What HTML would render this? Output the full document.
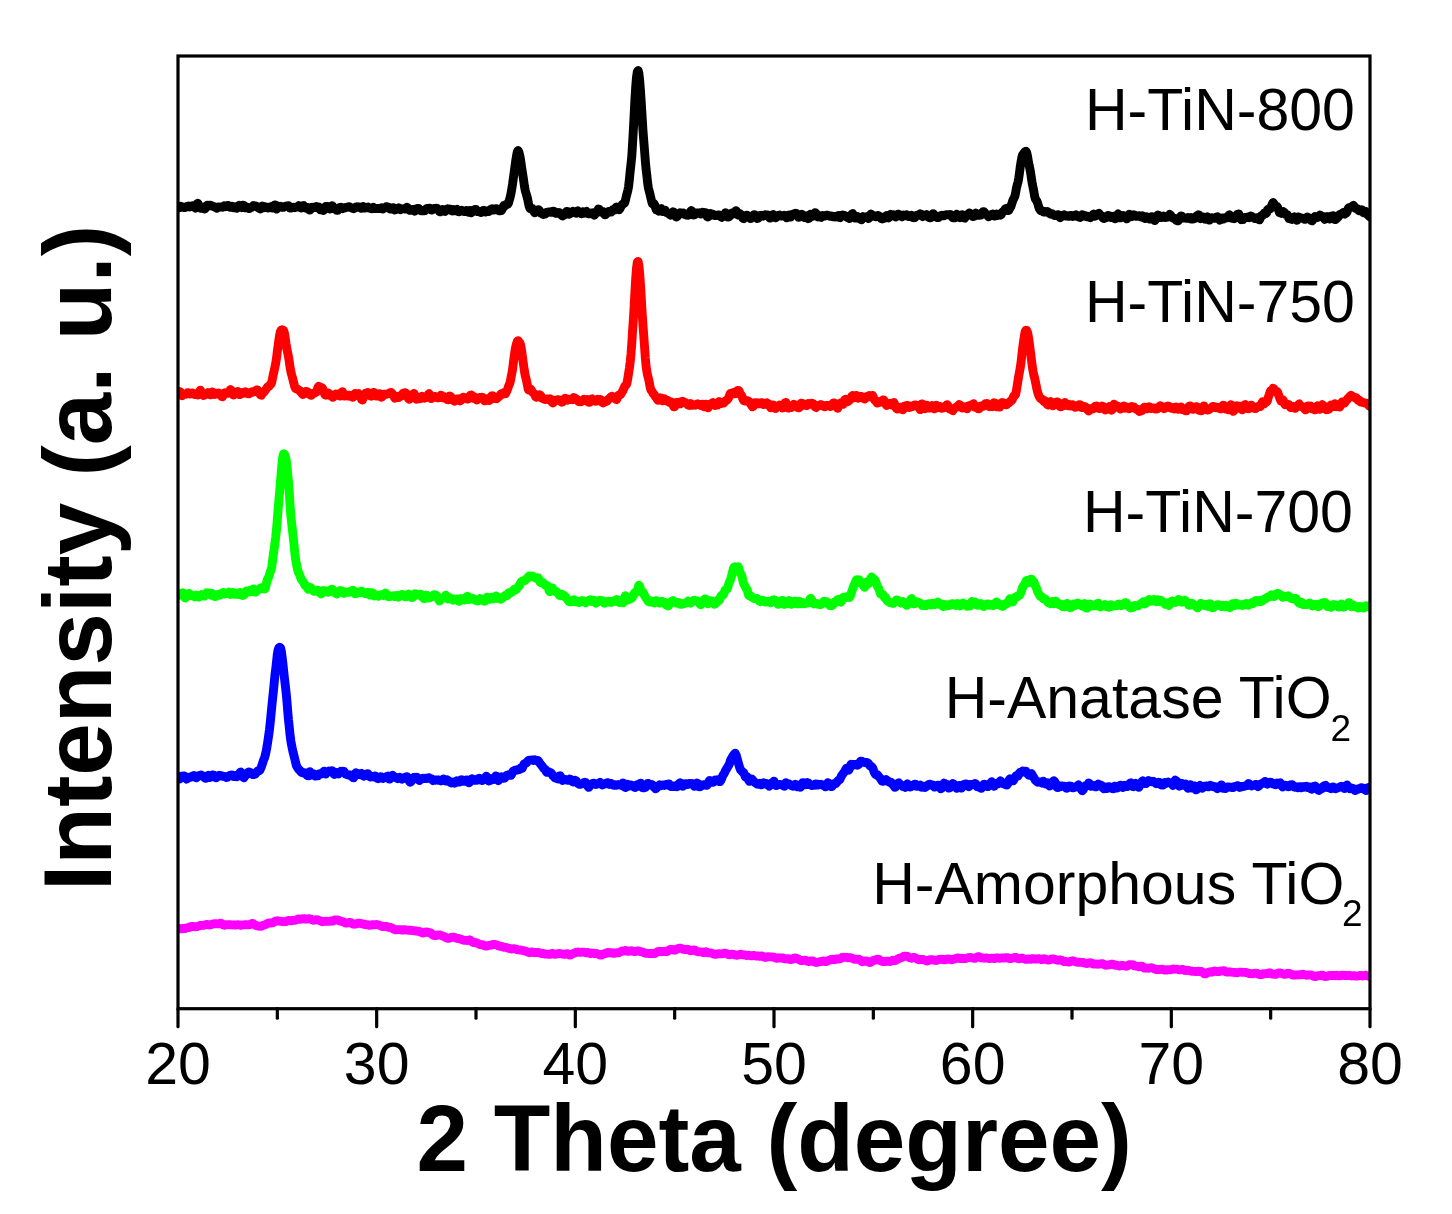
<!DOCTYPE html>
<html><head><meta charset="utf-8"><style>
html,body{margin:0;padding:0;background:#fff;}
svg{display:block;}
text{font-family:"Liberation Sans",sans-serif;}
</style></head><body>
<svg width="1452" height="1214" viewBox="0 0 1452 1214">
<rect x="0" y="0" width="1452" height="1214" fill="#fff"/>
<clipPath id="cp"><rect x="178.0" y="56.0" width="1192.0" height="952.7"/></clipPath>
<g clip-path="url(#cp)">
<polyline points="178.0,207.6 178.8,207.8 179.6,206.9 180.4,206.3 181.2,207.1 182.0,207.3 182.8,207.0 183.6,207.3 184.4,207.6 185.2,207.4 185.9,207.2 186.7,206.9 187.5,206.2 188.3,206.0 189.1,206.5 189.9,207.0 190.7,206.8 191.5,206.1 192.3,205.7 193.1,206.0 193.9,206.6 194.7,207.4 195.5,208.2 196.3,206.7 197.1,203.8 197.9,203.3 198.7,205.0 199.5,206.2 200.3,207.2 201.0,208.3 201.8,208.4 202.6,207.1 203.4,207.4 204.2,209.0 205.0,209.0 205.8,207.7 206.6,205.9 207.4,205.1 208.2,205.9 209.0,206.1 209.8,205.3 210.6,205.3 211.4,205.7 212.2,205.8 213.0,206.3 213.8,206.8 214.6,206.8 215.3,207.0 216.1,207.8 216.9,208.2 217.7,207.5 218.5,206.9 219.3,207.1 220.1,207.2 220.9,207.1 221.7,206.9 222.5,207.2 223.3,206.6 224.1,205.7 224.9,206.0 225.7,206.7 226.5,206.5 227.3,205.6 228.1,205.4 228.9,206.2 229.7,206.8 230.4,207.3 231.2,206.9 232.0,206.2 232.8,207.1 233.6,207.9 234.4,207.1 235.2,206.8 236.0,207.6 236.8,208.2 237.6,207.8 238.4,206.4 239.2,205.4 240.0,205.9 240.8,206.9 241.6,207.5 242.4,206.6 243.2,205.1 244.0,205.6 244.8,207.4 245.5,207.8 246.3,207.1 247.1,207.2 247.9,207.9 248.7,208.5 249.5,208.5 250.3,207.9 251.1,207.3 251.9,207.2 252.7,206.7 253.5,205.5 254.3,205.7 255.1,206.0 255.9,205.9 256.7,206.4 257.5,207.1 258.3,207.7 259.1,208.1 259.9,208.7 260.6,208.9 261.4,207.7 262.2,206.1 263.0,206.3 263.8,207.8 264.6,207.6 265.4,206.8 266.2,207.0 267.0,207.6 267.8,208.0 268.6,207.7 269.4,207.1 270.2,206.8 271.0,206.8 271.8,207.1 272.6,208.1 273.4,207.9 274.2,205.4 274.9,204.9 275.7,207.7 276.5,209.1 277.3,207.3 278.1,206.1 278.9,206.5 279.7,206.4 280.5,206.3 281.3,206.9 282.1,207.4 282.9,207.4 283.7,207.3 284.5,206.8 285.3,206.2 286.1,206.0 286.9,206.0 287.7,206.0 288.5,205.7 289.3,206.5 290.0,208.0 290.8,208.1 291.6,207.8 292.4,207.7 293.2,207.3 294.0,207.3 294.8,207.7 295.6,207.4 296.4,207.0 297.2,207.1 298.0,206.5 298.8,205.6 299.6,205.9 300.4,207.2 301.2,208.1 302.0,207.1 302.8,205.9 303.6,205.5 304.4,206.8 305.1,208.0 305.9,207.5 306.7,207.2 307.5,208.0 308.3,209.0 309.1,209.9 309.9,210.1 310.7,208.8 311.5,207.4 312.3,207.2 313.1,207.5 313.9,207.7 314.7,207.6 315.5,207.0 316.3,206.6 317.1,207.1 317.9,206.9 318.7,206.9 319.5,208.5 320.2,209.6 321.0,209.2 321.8,208.3 322.6,208.9 323.4,210.5 324.2,209.6 325.0,207.2 325.8,206.4 326.6,206.5 327.4,206.4 328.2,207.1 329.0,208.2 329.8,209.1 330.6,208.0 331.4,205.8 332.2,205.7 333.0,206.8 333.8,208.3 334.5,208.9 335.3,208.4 336.1,208.7 336.9,210.4 337.7,210.4 338.5,208.6 339.3,207.7 340.1,207.4 340.9,207.2 341.7,207.8 342.5,208.6 343.3,208.0 344.1,207.7 344.9,208.0 345.7,207.6 346.5,207.3 347.3,207.2 348.1,207.0 348.9,206.6 349.6,206.9 350.4,207.4 351.2,207.8 352.0,208.0 352.8,208.4 353.6,208.7 354.4,208.2 355.2,207.6 356.0,207.1 356.8,206.7 357.6,206.9 358.4,207.3 359.2,207.0 360.0,207.3 360.8,208.3 361.6,208.4 362.4,207.2 363.2,206.5 364.0,207.6 364.7,208.0 365.5,207.6 366.3,207.9 367.1,207.4 367.9,207.1 368.7,207.8 369.5,208.2 370.3,207.9 371.1,208.1 371.9,208.9 372.7,208.0 373.5,207.3 374.3,208.1 375.1,208.6 375.9,208.6 376.7,208.5 377.5,208.5 378.3,208.5 379.1,208.4 379.8,208.6 380.6,208.1 381.4,207.8 382.2,208.5 383.0,208.9 383.8,208.3 384.6,208.0 385.4,207.7 386.2,206.7 387.0,206.6 387.8,207.2 388.6,207.4 389.4,208.1 390.2,209.0 391.0,209.1 391.8,208.1 392.6,207.7 393.4,207.7 394.1,208.3 394.9,210.0 395.7,209.5 396.5,208.7 397.3,209.1 398.1,208.4 398.9,207.8 399.7,209.0 400.5,209.7 401.3,209.1 402.1,208.8 402.9,208.9 403.7,208.7 404.5,209.1 405.3,208.9 406.1,207.8 406.9,207.2 407.7,207.7 408.5,208.7 409.2,209.9 410.0,210.4 410.8,210.4 411.6,210.0 412.4,209.4 413.2,209.4 414.0,210.6 414.8,211.2 415.6,209.9 416.4,208.8 417.2,208.6 418.0,208.4 418.8,208.6 419.6,209.2 420.4,210.1 421.2,210.9 422.0,210.8 422.8,210.7 423.6,210.8 424.3,210.8 425.1,210.6 425.9,209.4 426.7,208.5 427.5,208.6 428.3,208.5 429.1,208.1 429.9,208.1 430.7,208.8 431.5,210.1 432.3,209.9 433.1,208.8 433.9,208.4 434.7,208.7 435.5,208.6 436.3,208.2 437.1,208.3 437.9,209.0 438.7,210.0 439.4,211.4 440.2,211.8 441.0,211.1 441.8,210.1 442.6,209.5 443.4,210.1 444.2,210.9 445.0,211.4 445.8,210.8 446.6,209.1 447.4,208.8 448.2,209.3 449.0,209.4 449.8,209.0 450.6,209.4 451.4,210.5 452.2,211.0 453.0,210.3 453.7,209.6 454.5,210.0 455.3,210.7 456.1,210.0 456.9,209.5 457.7,210.7 458.5,211.7 459.3,211.7 460.1,211.2 460.9,210.8 461.7,210.3 462.5,210.5 463.3,210.9 464.1,211.6 464.9,211.6 465.7,210.6 466.5,210.5 467.3,211.4 468.1,212.2 468.8,211.5 469.6,210.5 470.4,211.3 471.2,212.7 472.0,212.3 472.8,210.3 473.6,210.1 474.4,210.6 475.2,209.5 476.0,209.4 476.8,211.0 477.6,211.6 478.4,211.2 479.2,211.4 480.0,212.1 480.8,212.6 481.6,212.2 482.4,211.4 483.2,210.4 483.9,210.3 484.7,211.2 485.5,212.0 486.3,211.6 487.1,211.0 487.9,211.4 488.7,211.6 489.5,210.8 490.3,210.0 491.1,209.2 491.9,208.8 492.7,209.6 493.5,210.1 494.3,209.8 495.1,209.6 495.9,208.7 496.7,208.7 497.5,209.9 498.3,210.5 499.0,209.7 499.8,210.0 500.6,210.8 501.4,210.6 502.2,209.4 503.0,207.0 503.8,205.7 504.6,206.1 505.4,205.5 506.2,204.5 507.0,204.2 507.8,204.3 508.6,202.7 509.4,199.9 510.2,197.1 511.0,193.4 511.8,188.7 512.6,183.7 513.3,178.5 514.1,173.0 514.9,166.8 515.7,160.9 516.5,155.9 517.3,151.9 518.1,150.5 518.9,152.0 519.7,155.1 520.5,159.4 521.3,165.1 522.1,170.5 522.9,175.4 523.7,180.9 524.5,186.6 525.3,190.7 526.1,193.4 526.9,196.2 527.7,199.4 528.4,202.9 529.2,206.4 530.0,208.6 530.8,209.1 531.6,208.8 532.4,208.6 533.2,209.7 534.0,211.7 534.8,212.9 535.6,212.2 536.4,210.8 537.2,210.1 538.0,209.7 538.8,209.7 539.6,210.7 540.4,212.3 541.2,213.4 542.0,213.7 542.8,214.3 543.5,214.5 544.3,214.1 545.1,214.1 545.9,213.4 546.7,212.4 547.5,212.2 548.3,212.1 549.1,211.9 549.9,212.1 550.7,212.4 551.5,212.3 552.3,211.6 553.1,211.1 553.9,211.1 554.7,212.3 555.5,213.3 556.3,213.4 557.1,213.4 557.9,213.1 558.6,212.4 559.4,212.7 560.2,213.8 561.0,214.7 561.8,215.4 562.6,215.9 563.4,215.2 564.2,214.9 565.0,214.6 565.8,213.0 566.6,211.5 567.4,211.5 568.2,213.0 569.0,214.2 569.8,214.0 570.6,213.3 571.4,212.8 572.2,212.1 572.9,211.3 573.7,211.9 574.5,212.3 575.3,212.8 576.1,213.3 576.9,211.9 577.7,210.8 578.5,211.5 579.3,212.8 580.1,213.1 580.9,213.6 581.7,213.8 582.5,212.8 583.3,211.7 584.1,212.4 584.9,213.2 585.7,212.0 586.5,211.5 587.3,212.6 588.0,213.7 588.8,213.9 589.6,213.3 590.4,212.9 591.2,213.3 592.0,213.0 592.8,212.8 593.6,214.6 594.4,215.2 595.2,213.6 596.0,213.1 596.8,212.7 597.6,210.5 598.4,208.9 599.2,209.3 600.0,210.4 600.8,211.5 601.6,212.3 602.4,212.0 603.1,211.6 603.9,213.1 604.7,214.7 605.5,214.7 606.3,213.7 607.1,212.8 607.9,212.1 608.7,211.4 609.5,211.5 610.3,211.9 611.1,212.1 611.9,211.1 612.7,209.9 613.5,210.2 614.3,210.2 615.1,208.7 615.9,207.5 616.7,206.9 617.5,207.3 618.2,208.9 619.0,209.8 619.8,208.9 620.6,207.3 621.4,205.9 622.2,204.7 623.0,203.9 623.8,203.7 624.6,202.9 625.4,200.4 626.2,196.8 627.0,193.6 627.8,190.6 628.6,186.5 629.4,179.3 630.2,171.0 631.0,164.0 631.8,156.0 632.5,144.7 633.3,131.1 634.1,115.8 634.9,100.1 635.7,86.7 636.5,77.2 637.3,71.8 638.1,70.5 638.9,73.4 639.7,80.5 640.5,91.1 641.3,103.2 642.1,116.3 642.9,129.5 643.7,140.2 644.5,150.0 645.3,160.5 646.1,169.4 646.9,175.9 647.6,182.6 648.4,188.0 649.2,191.2 650.0,194.2 650.8,197.7 651.6,201.1 652.4,203.7 653.2,204.2 654.0,203.6 654.8,205.1 655.6,208.1 656.4,210.0 657.2,210.2 658.0,210.5 658.8,211.1 659.6,210.3 660.4,208.9 661.2,208.6 662.0,210.2 662.7,211.6 663.5,210.7 664.3,209.9 665.1,210.2 665.9,211.5 666.7,212.6 667.5,212.9 668.3,213.4 669.1,214.0 669.9,214.6 670.7,215.2 671.5,214.4 672.3,212.8 673.1,211.8 673.9,212.1 674.7,213.3 675.5,215.0 676.3,217.0 677.1,216.7 677.8,214.8 678.6,214.2 679.4,214.0 680.2,212.7 681.0,212.9 681.8,213.7 682.6,213.2 683.4,213.0 684.2,213.7 685.0,214.6 685.8,214.9 686.6,215.1 687.4,215.3 688.2,215.3 689.0,214.9 689.8,213.2 690.6,211.4 691.4,210.7 692.1,211.4 692.9,213.4 693.7,215.0 694.5,214.8 695.3,213.5 696.1,212.9 696.9,213.1 697.7,213.3 698.5,212.9 699.3,212.8 700.1,213.7 700.9,214.0 701.7,212.8 702.5,212.2 703.3,212.4 704.1,213.1 704.9,212.8 705.7,212.8 706.5,214.9 707.2,216.9 708.0,217.0 708.8,216.3 709.6,214.6 710.4,213.4 711.2,214.0 712.0,214.0 712.8,214.1 713.6,215.2 714.4,215.6 715.2,215.5 716.0,215.5 716.8,215.2 717.6,215.1 718.4,215.0 719.2,215.0 720.0,215.5 720.8,216.7 721.6,217.3 722.3,216.7 723.1,215.4 723.9,214.9 724.7,214.3 725.5,212.8 726.3,213.7 727.1,216.1 727.9,217.1 728.7,216.9 729.5,216.3 730.3,215.6 731.1,214.3 731.9,212.9 732.7,212.8 733.5,213.6 734.3,213.8 735.1,212.4 735.9,210.6 736.7,211.4 737.4,213.8 738.2,215.1 739.0,214.6 739.8,213.6 740.6,214.2 741.4,216.1 742.2,217.0 743.0,218.3 743.8,218.6 744.6,217.2 745.4,215.8 746.2,215.3 747.0,215.1 747.8,215.8 748.6,216.6 749.4,217.5 750.2,218.5 751.0,218.5 751.7,217.5 752.5,216.7 753.3,215.4 754.1,214.6 754.9,214.6 755.7,215.6 756.5,217.3 757.3,218.5 758.1,218.3 758.9,217.3 759.7,216.3 760.5,215.4 761.3,215.2 762.1,216.1 762.9,216.2 763.7,215.6 764.5,215.3 765.3,214.7 766.1,214.8 766.8,215.0 767.6,214.9 768.4,215.6 769.2,217.1 770.0,218.1 770.8,217.9 771.6,216.5 772.4,215.0 773.2,214.6 774.0,215.2 774.8,216.8 775.6,217.8 776.4,217.1 777.2,215.9 778.0,215.6 778.8,215.4 779.6,215.1 780.4,215.7 781.2,216.1 781.9,215.7 782.7,215.6 783.5,215.6 784.3,215.2 785.1,215.6 785.9,216.9 786.7,217.8 787.5,217.4 788.3,215.5 789.1,214.9 789.9,216.5 790.7,216.9 791.5,215.4 792.3,214.3 793.1,214.2 793.9,213.8 794.7,213.5 795.5,213.3 796.3,213.4 797.0,213.8 797.8,215.6 798.6,217.3 799.4,217.2 800.2,216.6 801.0,215.3 801.8,214.3 802.6,214.8 803.4,216.4 804.2,217.4 805.0,217.2 805.8,215.9 806.6,215.8 807.4,217.1 808.2,218.6 809.0,218.3 809.8,216.0 810.6,214.1 811.3,214.5 812.1,216.2 812.9,216.3 813.7,215.3 814.5,214.0 815.3,212.6 816.1,213.5 816.9,216.0 817.7,216.8 818.5,216.2 819.3,215.9 820.1,217.1 820.9,217.4 821.7,216.1 822.5,215.5 823.3,215.8 824.1,216.2 824.9,216.1 825.7,215.5 826.4,215.1 827.2,215.2 828.0,215.3 828.8,215.7 829.6,216.2 830.4,216.4 831.2,215.9 832.0,216.2 832.8,216.8 833.6,216.5 834.4,216.4 835.2,217.0 836.0,217.0 836.8,216.5 837.6,215.8 838.4,215.5 839.2,216.7 840.0,217.7 840.8,216.6 841.5,215.2 842.3,215.0 843.1,215.1 843.9,215.3 844.7,215.5 845.5,215.8 846.3,216.8 847.1,217.3 847.9,217.6 848.7,218.2 849.5,218.5 850.3,217.3 851.1,215.3 851.9,214.1 852.7,213.7 853.5,215.0 854.3,217.0 855.1,218.1 855.9,217.9 856.6,216.9 857.4,216.6 858.2,217.3 859.0,218.4 859.8,218.8 860.6,219.2 861.4,219.8 862.2,218.2 863.0,216.7 863.8,217.1 864.6,217.4 865.4,217.0 866.2,216.8 867.0,217.5 867.8,218.1 868.6,218.5 869.4,217.5 870.2,215.2 870.9,214.0 871.7,214.6 872.5,215.7 873.3,216.2 874.1,216.0 874.9,215.9 875.7,216.8 876.5,216.8 877.3,215.6 878.1,215.5 878.9,216.0 879.7,216.2 880.5,217.1 881.3,218.6 882.1,218.9 882.9,217.8 883.7,217.5 884.5,218.2 885.3,217.3 886.0,215.8 886.8,215.5 887.6,216.7 888.4,218.0 889.2,217.3 890.0,215.4 890.8,214.4 891.6,214.8 892.4,214.6 893.2,214.7 894.0,215.5 894.8,216.1 895.6,216.9 896.4,216.5 897.2,214.8 898.0,214.1 898.8,214.3 899.6,215.4 900.4,216.2 901.1,216.3 901.9,216.8 902.7,216.0 903.5,215.0 904.3,215.5 905.1,215.8 905.9,215.0 906.7,214.7 907.5,215.3 908.3,216.5 909.1,216.6 909.9,216.3 910.7,216.1 911.5,215.4 912.3,216.1 913.1,217.6 913.9,217.8 914.7,217.6 915.5,216.6 916.2,215.5 917.0,215.4 917.8,215.5 918.6,215.0 919.4,214.3 920.2,213.8 921.0,214.1 921.8,215.4 922.6,216.5 923.4,216.0 924.2,215.2 925.0,215.6 925.8,215.4 926.6,214.8 927.4,215.8 928.2,217.1 929.0,217.6 929.8,217.8 930.5,217.9 931.3,217.2 932.1,215.3 932.9,213.6 933.7,214.1 934.5,215.4 935.3,216.1 936.1,216.9 936.9,217.4 937.7,217.6 938.5,217.5 939.3,216.6 940.1,216.1 940.9,215.5 941.7,215.3 942.5,215.7 943.3,215.9 944.1,215.7 944.9,215.1 945.6,214.8 946.4,214.7 947.2,214.8 948.0,214.6 948.8,214.7 949.6,214.9 950.4,214.4 951.2,214.9 952.0,216.7 952.8,217.7 953.6,217.7 954.4,217.9 955.2,217.5 956.0,215.5 956.8,214.2 957.6,214.8 958.4,216.3 959.2,217.2 960.0,217.7 960.7,217.2 961.5,215.7 962.3,214.6 963.1,215.7 963.9,217.9 964.7,218.2 965.5,216.9 966.3,215.7 967.1,215.1 967.9,214.6 968.7,213.6 969.5,212.9 970.3,213.9 971.1,215.1 971.9,215.8 972.7,216.4 973.5,216.6 974.3,216.2 975.1,214.7 975.8,213.0 976.6,213.8 977.4,215.4 978.2,215.0 979.0,214.9 979.8,215.3 980.6,215.1 981.4,214.5 982.2,212.8 983.0,211.6 983.8,211.6 984.6,212.4 985.4,213.8 986.2,214.6 987.0,214.9 987.8,215.6 988.6,216.8 989.4,216.2 990.1,215.3 990.9,215.0 991.7,214.4 992.5,214.1 993.3,214.9 994.1,215.9 994.9,216.1 995.7,215.3 996.5,214.1 997.3,214.3 998.1,215.4 998.9,215.1 999.7,214.9 1000.5,215.2 1001.3,214.4 1002.1,212.5 1002.9,211.6 1003.7,211.3 1004.5,210.3 1005.2,209.1 1006.0,208.5 1006.8,208.3 1007.6,209.6 1008.4,210.6 1009.2,209.6 1010.0,208.0 1010.8,206.7 1011.6,204.4 1012.4,201.7 1013.2,199.6 1014.0,198.1 1014.8,196.5 1015.6,193.0 1016.4,188.2 1017.2,184.9 1018.0,182.1 1018.8,177.7 1019.6,172.1 1020.3,166.4 1021.1,161.6 1021.9,157.1 1022.7,154.6 1023.5,153.8 1024.3,152.7 1025.1,151.5 1025.9,151.3 1026.7,152.5 1027.5,156.0 1028.3,160.9 1029.1,165.2 1029.9,168.9 1030.7,173.3 1031.5,178.9 1032.3,183.9 1033.1,187.6 1033.9,191.9 1034.7,196.5 1035.4,199.0 1036.2,200.1 1037.0,201.4 1037.8,203.6 1038.6,206.5 1039.4,208.8 1040.2,210.0 1041.0,210.8 1041.8,210.5 1042.6,210.9 1043.4,211.9 1044.2,211.7 1045.0,211.5 1045.8,212.1 1046.6,212.1 1047.4,211.5 1048.2,212.0 1049.0,212.9 1049.7,213.6 1050.5,214.0 1051.3,213.6 1052.1,213.6 1052.9,214.4 1053.7,215.1 1054.5,215.5 1055.3,215.6 1056.1,215.3 1056.9,215.1 1057.7,214.6 1058.5,214.8 1059.3,216.4 1060.1,217.7 1060.9,217.1 1061.7,216.2 1062.5,216.1 1063.3,215.3 1064.1,214.8 1064.8,215.4 1065.6,216.1 1066.4,216.1 1067.2,215.8 1068.0,216.0 1068.8,216.4 1069.6,216.1 1070.4,215.4 1071.2,215.5 1072.0,216.2 1072.8,216.5 1073.6,216.1 1074.4,215.5 1075.2,215.0 1076.0,214.8 1076.8,215.7 1077.6,216.6 1078.4,216.9 1079.2,217.2 1079.9,217.5 1080.7,217.2 1081.5,215.7 1082.3,214.6 1083.1,215.2 1083.9,215.4 1084.7,215.4 1085.5,216.3 1086.3,216.8 1087.1,216.6 1087.9,216.2 1088.7,216.5 1089.5,217.4 1090.3,217.7 1091.1,216.6 1091.9,216.0 1092.7,215.2 1093.5,214.0 1094.3,214.7 1095.0,216.2 1095.8,215.8 1096.6,215.4 1097.4,214.8 1098.2,213.8 1099.0,213.3 1099.8,214.4 1100.6,215.5 1101.4,215.7 1102.2,216.7 1103.0,218.0 1103.8,218.5 1104.6,218.1 1105.4,218.1 1106.2,217.6 1107.0,216.0 1107.8,215.5 1108.6,216.1 1109.3,215.7 1110.1,216.1 1110.9,217.5 1111.7,217.6 1112.5,216.4 1113.3,216.2 1114.1,217.2 1114.9,218.8 1115.7,218.7 1116.5,216.6 1117.3,215.0 1118.1,214.0 1118.9,214.6 1119.7,216.4 1120.5,217.9 1121.3,217.3 1122.1,215.9 1122.9,215.5 1123.7,215.8 1124.4,216.5 1125.2,217.2 1126.0,218.3 1126.8,218.9 1127.6,217.5 1128.4,215.1 1129.2,214.2 1130.0,215.5 1130.8,216.8 1131.6,216.6 1132.4,215.9 1133.2,215.5 1134.0,214.8 1134.8,215.1 1135.6,216.2 1136.4,216.4 1137.2,216.4 1138.0,216.4 1138.8,216.0 1139.5,215.7 1140.3,216.3 1141.1,217.0 1141.9,216.5 1142.7,215.8 1143.5,216.6 1144.3,218.2 1145.1,218.5 1145.9,217.2 1146.7,216.8 1147.5,217.4 1148.3,218.2 1149.1,218.9 1149.9,219.1 1150.7,218.1 1151.5,216.7 1152.3,216.6 1153.1,217.6 1153.9,219.3 1154.6,220.6 1155.4,219.6 1156.2,217.3 1157.0,216.0 1157.8,215.0 1158.6,215.2 1159.4,216.9 1160.2,217.5 1161.0,217.4 1161.8,217.5 1162.6,216.4 1163.4,216.0 1164.2,217.1 1165.0,217.5 1165.8,217.2 1166.6,217.2 1167.4,217.2 1168.2,216.8 1168.9,215.7 1169.7,214.5 1170.5,215.0 1171.3,216.4 1172.1,217.2 1172.9,218.1 1173.7,218.6 1174.5,218.2 1175.3,218.9 1176.1,220.2 1176.9,220.6 1177.7,220.9 1178.5,220.5 1179.3,219.1 1180.1,217.3 1180.9,216.0 1181.7,216.1 1182.5,217.3 1183.3,218.0 1184.0,218.0 1184.8,218.0 1185.6,218.0 1186.4,218.3 1187.2,218.0 1188.0,217.5 1188.8,217.7 1189.6,218.6 1190.4,218.9 1191.2,217.6 1192.0,217.8 1192.8,219.0 1193.6,218.9 1194.4,218.6 1195.2,218.3 1196.0,216.6 1196.8,215.8 1197.6,215.9 1198.4,214.8 1199.1,214.9 1199.9,217.2 1200.7,218.7 1201.5,218.4 1202.3,217.5 1203.1,217.1 1203.9,217.7 1204.7,219.1 1205.5,219.3 1206.3,217.8 1207.1,216.8 1207.9,218.2 1208.7,220.0 1209.5,220.1 1210.3,219.1 1211.1,217.9 1211.9,217.6 1212.7,218.1 1213.5,218.2 1214.2,218.0 1215.0,218.2 1215.8,218.2 1216.6,217.1 1217.4,216.7 1218.2,217.5 1219.0,219.1 1219.8,220.2 1220.6,219.9 1221.4,218.6 1222.2,218.0 1223.0,219.1 1223.8,219.0 1224.6,217.9 1225.4,217.4 1226.2,217.4 1227.0,217.8 1227.8,217.4 1228.5,215.8 1229.3,214.8 1230.1,216.2 1230.9,217.9 1231.7,218.3 1232.5,218.2 1233.3,218.5 1234.1,218.7 1234.9,218.4 1235.7,217.5 1236.5,215.5 1237.3,214.4 1238.1,214.1 1238.9,214.0 1239.7,215.9 1240.5,218.6 1241.3,219.7 1242.1,219.6 1242.9,219.6 1243.6,218.6 1244.4,217.6 1245.2,217.5 1246.0,217.7 1246.8,217.4 1247.6,217.0 1248.4,217.5 1249.2,217.7 1250.0,217.2 1250.8,216.1 1251.6,216.3 1252.4,217.4 1253.2,217.7 1254.0,217.7 1254.8,218.5 1255.6,218.3 1256.4,217.8 1257.2,218.2 1258.0,218.6 1258.7,219.5 1259.5,219.8 1260.3,218.1 1261.1,215.9 1261.9,215.3 1262.7,215.3 1263.5,214.5 1264.3,213.0 1265.1,212.8 1265.9,213.6 1266.7,212.7 1267.5,210.0 1268.3,209.2 1269.1,209.2 1269.9,209.1 1270.7,208.2 1271.5,206.1 1272.3,203.8 1273.1,202.5 1273.8,203.4 1274.6,205.5 1275.4,206.2 1276.2,206.2 1277.0,206.6 1277.8,207.7 1278.6,210.2 1279.4,212.6 1280.2,212.9 1281.0,212.6 1281.8,213.3 1282.6,212.7 1283.4,211.7 1284.2,212.3 1285.0,213.7 1285.8,214.6 1286.6,214.4 1287.4,214.8 1288.1,216.8 1288.9,218.4 1289.7,218.1 1290.5,218.2 1291.3,219.3 1292.1,219.5 1292.9,218.0 1293.7,217.3 1294.5,216.8 1295.3,217.1 1296.1,219.2 1296.9,220.4 1297.7,218.3 1298.5,216.9 1299.3,217.8 1300.1,217.8 1300.9,217.7 1301.7,218.1 1302.5,218.3 1303.2,218.5 1304.0,218.9 1304.8,219.4 1305.6,219.2 1306.4,218.0 1307.2,217.0 1308.0,217.3 1308.8,218.4 1309.6,219.1 1310.4,219.6 1311.2,220.4 1312.0,220.8 1312.8,220.1 1313.6,218.7 1314.4,217.1 1315.2,216.4 1316.0,216.7 1316.8,217.1 1317.6,217.5 1318.3,217.0 1319.1,216.1 1319.9,215.1 1320.7,215.5 1321.5,216.6 1322.3,216.6 1323.1,216.5 1323.9,217.9 1324.7,219.3 1325.5,218.9 1326.3,217.5 1327.1,216.6 1327.9,217.0 1328.7,218.6 1329.5,219.1 1330.3,217.3 1331.1,216.2 1331.9,216.9 1332.7,216.6 1333.4,215.6 1334.2,217.4 1335.0,219.6 1335.8,219.5 1336.6,218.5 1337.4,217.9 1338.2,217.0 1339.0,215.3 1339.8,214.5 1340.6,214.7 1341.4,214.2 1342.2,213.3 1343.0,212.7 1343.8,213.6 1344.6,214.1 1345.4,213.4 1346.2,213.0 1347.0,212.2 1347.7,209.9 1348.5,208.1 1349.3,207.5 1350.1,207.3 1350.9,207.2 1351.7,207.1 1352.5,206.3 1353.3,205.3 1354.1,206.1 1354.9,208.0 1355.7,208.5 1356.5,208.4 1357.3,208.8 1358.1,209.8 1358.9,210.8 1359.7,210.9 1360.5,210.1 1361.3,209.6 1362.1,209.9 1362.8,211.3 1363.6,212.8 1364.4,212.1 1365.2,211.2 1366.0,212.0 1366.8,213.5 1367.6,214.6 1368.4,215.3 1369.2,216.3 1370.0,216.9" fill="none" stroke="#000000" stroke-width="8.9" stroke-linejoin="round" stroke-linecap="round"/>
<polyline points="178.0,393.5 178.8,392.6 179.6,391.6 180.4,392.0 181.2,394.7 182.0,395.7 182.8,394.9 183.6,394.6 184.4,394.2 185.2,394.0 185.9,394.2 186.7,393.6 187.5,392.8 188.3,392.8 189.1,393.6 189.9,394.0 190.7,393.8 191.5,393.3 192.3,393.0 193.1,393.3 193.9,394.2 194.7,394.5 195.5,394.4 196.3,393.8 197.1,393.6 197.9,395.0 198.7,394.9 199.5,391.9 200.3,390.1 201.0,391.2 201.8,393.5 202.6,394.9 203.4,395.5 204.2,395.3 205.0,394.6 205.8,394.1 206.6,394.0 207.4,393.6 208.2,392.6 209.0,392.9 209.8,394.4 210.6,394.9 211.4,393.1 212.2,391.9 213.0,392.7 213.8,394.0 214.6,394.4 215.3,393.9 216.1,393.2 216.9,394.1 217.7,394.2 218.5,393.0 219.3,393.7 220.1,394.9 220.9,395.4 221.7,396.4 222.5,396.8 223.3,395.1 224.1,393.2 224.9,392.8 225.7,393.4 226.5,393.3 227.3,393.1 228.1,393.3 228.9,392.9 229.7,391.2 230.4,389.5 231.2,390.2 232.0,393.0 232.8,394.7 233.6,394.9 234.4,393.8 235.2,392.9 236.0,392.9 236.8,392.3 237.6,391.4 238.4,392.5 239.2,394.5 240.0,394.6 240.8,393.7 241.6,392.7 242.4,392.7 243.2,393.3 244.0,392.9 244.8,392.0 245.5,391.8 246.3,392.1 247.1,393.2 247.9,393.9 248.7,393.7 249.5,393.7 250.3,393.0 251.1,392.2 251.9,391.8 252.7,392.0 253.5,392.1 254.3,391.6 255.1,391.0 255.9,390.5 256.7,390.0 257.5,389.9 258.3,391.3 259.1,392.9 259.9,394.1 260.6,395.0 261.4,395.2 262.2,393.6 263.0,392.5 263.8,392.3 264.6,391.2 265.4,390.3 266.2,389.1 267.0,387.8 267.8,386.7 268.6,386.7 269.4,385.7 270.2,384.6 271.0,384.3 271.8,382.1 272.6,378.0 273.4,373.9 274.2,370.4 274.9,367.1 275.7,363.4 276.5,358.2 277.3,351.7 278.1,345.5 278.9,339.8 279.7,334.7 280.5,331.4 281.3,330.0 282.1,329.8 282.9,330.0 283.7,330.6 284.5,333.5 285.3,338.5 286.1,344.2 286.9,348.9 287.7,352.8 288.5,356.8 289.3,361.6 290.0,366.9 290.8,371.3 291.6,374.6 292.4,377.4 293.2,380.7 294.0,384.0 294.8,386.9 295.6,388.4 296.4,388.9 297.2,388.9 298.0,389.5 298.8,390.0 299.6,390.6 300.4,391.6 301.2,392.5 302.0,393.5 302.8,394.5 303.6,394.3 304.4,392.9 305.1,391.6 305.9,391.5 306.7,391.6 307.5,391.8 308.3,393.2 309.1,394.0 309.9,394.5 310.7,395.4 311.5,395.4 312.3,394.2 313.1,393.2 313.9,393.3 314.7,393.0 315.5,392.3 316.3,392.1 317.1,390.2 317.9,387.4 318.7,386.3 319.5,386.6 320.2,388.0 321.0,388.3 321.8,387.6 322.6,388.4 323.4,390.5 324.2,392.9 325.0,394.9 325.8,395.2 326.6,394.5 327.4,393.6 328.2,393.0 329.0,394.3 329.8,395.4 330.6,394.9 331.4,394.8 332.2,396.4 333.0,397.4 333.8,396.1 334.5,394.9 335.3,394.7 336.1,394.0 336.9,394.3 337.7,395.0 338.5,395.4 339.3,395.6 340.1,396.0 340.9,394.7 341.7,392.2 342.5,391.8 343.3,394.0 344.1,396.0 344.9,396.0 345.7,395.3 346.5,395.4 347.3,396.0 348.1,395.9 348.9,395.2 349.6,395.1 350.4,396.4 351.2,396.7 352.0,396.3 352.8,397.3 353.6,396.6 354.4,394.2 355.2,393.4 356.0,394.8 356.8,395.3 357.6,393.9 358.4,393.6 359.2,394.8 360.0,395.2 360.8,396.7 361.6,399.6 362.4,400.0 363.2,398.0 364.0,395.9 364.7,394.4 365.5,393.2 366.3,393.4 367.1,393.2 367.9,392.5 368.7,393.1 369.5,394.9 370.3,395.9 371.1,396.2 371.9,395.8 372.7,394.1 373.5,392.5 374.3,392.5 375.1,394.3 375.9,395.9 376.7,396.1 377.5,395.4 378.3,394.3 379.1,393.8 379.8,393.8 380.6,395.1 381.4,397.2 382.2,397.0 383.0,395.2 383.8,394.3 384.6,394.1 385.4,394.1 386.2,394.3 387.0,394.0 387.8,393.8 388.6,393.7 389.4,393.4 390.2,392.7 391.0,392.4 391.8,393.0 392.6,394.1 393.4,395.2 394.1,396.8 394.9,398.1 395.7,397.8 396.5,396.8 397.3,396.5 398.1,396.7 398.9,397.4 399.7,396.7 400.5,395.7 401.3,396.2 402.1,395.4 402.9,393.2 403.7,393.0 404.5,393.3 405.3,392.8 406.1,393.2 406.9,394.6 407.7,396.6 408.5,398.6 409.2,399.4 410.0,398.6 410.8,397.9 411.6,397.3 412.4,396.0 413.2,394.1 414.0,393.4 414.8,395.1 415.6,397.8 416.4,399.2 417.2,398.7 418.0,397.6 418.8,397.5 419.6,398.8 420.4,398.8 421.2,397.2 422.0,396.3 422.8,396.8 423.6,398.1 424.3,398.2 425.1,397.7 425.9,397.7 426.7,397.3 427.5,396.0 428.3,394.4 429.1,393.8 429.9,394.8 430.7,397.6 431.5,398.6 432.3,397.1 433.1,396.8 433.9,397.0 434.7,396.5 435.5,396.5 436.3,396.9 437.1,397.7 437.9,397.6 438.7,397.8 439.4,397.7 440.2,396.3 441.0,395.2 441.8,396.3 442.6,397.8 443.4,398.0 444.2,397.3 445.0,396.9 445.8,397.8 446.6,398.8 447.4,399.6 448.2,399.8 449.0,398.0 449.8,396.0 450.6,396.2 451.4,398.1 452.2,399.2 453.0,399.8 453.7,400.5 454.5,401.1 455.3,400.5 456.1,399.1 456.9,399.0 457.7,398.9 458.5,398.8 459.3,400.1 460.1,401.0 460.9,400.3 461.7,399.0 462.5,397.9 463.3,397.2 464.1,397.3 464.9,397.6 465.7,397.8 466.5,398.2 467.3,399.0 468.1,399.1 468.8,398.2 469.6,397.2 470.4,395.3 471.2,394.9 472.0,396.7 472.8,398.1 473.6,397.8 474.4,397.0 475.2,397.7 476.0,399.2 476.8,399.9 477.6,399.4 478.4,398.5 479.2,397.6 480.0,397.5 480.8,398.0 481.6,398.1 482.4,397.3 483.2,397.6 483.9,399.6 484.7,400.9 485.5,400.2 486.3,399.1 487.1,399.0 487.9,399.9 488.7,400.6 489.5,400.6 490.3,399.0 491.1,396.9 491.9,395.9 492.7,395.7 493.5,396.6 494.3,398.5 495.1,398.6 495.9,398.1 496.7,398.7 497.5,398.0 498.3,396.7 499.0,396.6 499.8,396.0 500.6,394.4 501.4,393.6 502.2,394.3 503.0,393.9 503.8,392.7 504.6,393.5 505.4,393.8 506.2,392.3 507.0,390.6 507.8,388.5 508.6,386.1 509.4,384.4 510.2,381.9 511.0,377.6 511.8,373.5 512.6,369.0 513.3,363.3 514.1,357.2 514.9,351.3 515.7,346.9 516.5,343.8 517.3,341.2 518.1,340.6 518.9,341.8 519.7,342.5 520.5,344.5 521.3,348.6 522.1,354.2 522.9,360.3 523.7,366.0 524.5,371.6 525.3,375.8 526.1,378.9 526.9,382.6 527.7,386.7 528.4,389.9 529.2,390.1 530.0,389.1 530.8,389.1 531.6,390.5 532.4,392.1 533.2,392.9 534.0,393.4 534.8,394.8 535.6,396.7 536.4,397.3 537.2,396.0 538.0,395.3 538.8,395.0 539.6,394.7 540.4,395.2 541.2,396.7 542.0,398.3 542.8,398.5 543.5,398.6 544.3,399.3 545.1,399.5 545.9,399.2 546.7,399.0 547.5,399.0 548.3,399.7 549.1,399.7 549.9,398.8 550.7,399.0 551.5,400.9 552.3,402.5 553.1,403.0 553.9,401.6 554.7,400.5 555.5,400.1 556.3,400.4 557.1,400.4 557.9,399.6 558.6,399.6 559.4,400.2 560.2,400.8 561.0,401.6 561.8,402.2 562.6,401.9 563.4,400.8 564.2,399.3 565.0,398.3 565.8,398.4 566.6,399.4 567.4,400.2 568.2,399.6 569.0,399.2 569.8,399.6 570.6,399.3 571.4,399.1 572.2,399.6 572.9,399.0 573.7,397.4 574.5,397.8 575.3,399.3 576.1,399.5 576.9,399.3 577.7,400.3 578.5,401.5 579.3,401.6 580.1,401.8 580.9,401.8 581.7,401.1 582.5,400.6 583.3,399.9 584.1,399.2 584.9,399.6 585.7,400.5 586.5,400.2 587.3,399.5 588.0,400.4 588.8,402.4 589.6,402.4 590.4,400.7 591.2,399.1 592.0,398.8 592.8,399.9 593.6,400.2 594.4,400.2 595.2,401.4 596.0,401.4 596.8,399.8 597.6,399.2 598.4,399.7 599.2,400.0 600.0,399.5 600.8,399.6 601.6,401.3 602.4,402.5 603.1,402.9 603.9,402.4 604.7,401.3 605.5,401.1 606.3,401.5 607.1,401.0 607.9,399.8 608.7,398.9 609.5,398.5 610.3,397.7 611.1,396.7 611.9,396.2 612.7,396.7 613.5,396.8 614.3,397.1 615.1,398.0 615.9,399.3 616.7,399.6 617.5,397.7 618.2,395.5 619.0,395.1 619.8,395.0 620.6,394.5 621.4,393.1 622.2,391.7 623.0,390.5 623.8,388.6 624.6,386.6 625.4,385.6 626.2,385.1 627.0,382.9 627.8,378.3 628.6,373.2 629.4,368.1 630.2,362.0 631.0,353.9 631.8,343.4 632.5,331.8 633.3,320.3 634.1,307.0 634.9,292.3 635.7,278.7 636.5,268.0 637.3,262.1 638.1,261.4 638.9,265.5 639.7,273.8 640.5,285.2 641.3,298.4 642.1,312.0 642.9,324.4 643.7,335.2 644.5,346.2 645.3,357.6 646.1,366.2 646.9,371.6 647.6,375.6 648.4,378.3 649.2,381.7 650.0,386.4 650.8,389.8 651.6,390.6 652.4,392.0 653.2,393.8 654.0,394.2 654.8,395.7 655.6,397.0 656.4,397.7 657.2,399.3 658.0,400.3 658.8,398.8 659.6,398.0 660.4,398.1 661.2,398.0 662.0,399.1 662.7,400.9 663.5,400.3 664.3,398.8 665.1,399.4 665.9,400.9 666.7,401.0 667.5,400.3 668.3,400.9 669.1,402.2 669.9,402.6 670.7,401.9 671.5,401.9 672.3,403.7 673.1,405.3 673.9,406.9 674.7,406.8 675.5,404.1 676.3,402.4 677.1,402.9 677.8,402.8 678.6,402.2 679.4,402.8 680.2,403.9 681.0,402.8 681.8,401.4 682.6,401.3 683.4,401.8 684.2,402.5 685.0,402.5 685.8,402.6 686.6,403.4 687.4,404.0 688.2,405.1 689.0,405.4 689.8,404.1 690.6,403.6 691.4,404.5 692.1,405.3 692.9,405.0 693.7,404.7 694.5,404.9 695.3,405.2 696.1,405.0 696.9,404.1 697.7,403.8 698.5,404.1 699.3,404.3 700.1,405.1 700.9,405.5 701.7,404.8 702.5,404.1 703.3,405.0 704.1,406.7 704.9,406.1 705.7,404.2 706.5,404.8 707.2,407.2 708.0,407.8 708.8,406.7 709.6,405.3 710.4,403.9 711.2,404.0 712.0,403.8 712.8,402.5 713.6,403.0 714.4,405.0 715.2,405.4 716.0,404.6 716.8,404.9 717.6,405.1 718.4,403.2 719.2,401.6 720.0,401.9 720.8,402.8 721.6,403.4 722.3,402.7 723.1,402.4 723.9,402.8 724.7,401.7 725.5,400.9 726.3,400.7 727.1,400.0 727.9,398.9 728.7,397.6 729.5,395.5 730.3,393.6 731.1,393.2 731.9,393.2 732.7,392.8 733.5,392.5 734.3,392.8 735.1,393.9 735.9,393.1 736.7,391.0 737.4,390.6 738.2,390.4 739.0,390.7 739.8,392.7 740.6,394.3 741.4,395.1 742.2,396.9 743.0,399.4 743.8,400.8 744.6,401.0 745.4,401.0 746.2,400.9 747.0,400.7 747.8,400.7 748.6,401.2 749.4,401.9 750.2,403.3 751.0,404.6 751.7,405.5 752.5,406.7 753.3,406.2 754.1,403.6 754.9,402.8 755.7,402.9 756.5,402.7 757.3,402.7 758.1,403.5 758.9,403.9 759.7,403.7 760.5,403.5 761.3,402.7 762.1,402.7 762.9,404.3 763.7,404.6 764.5,404.2 765.3,404.2 766.1,403.3 766.8,402.9 767.6,403.6 768.4,403.7 769.2,404.5 770.0,406.3 770.8,407.8 771.6,407.7 772.4,406.1 773.2,404.9 774.0,405.6 774.8,407.7 775.6,408.5 776.4,407.3 777.2,406.2 778.0,406.1 778.8,405.5 779.6,405.0 780.4,405.5 781.2,406.4 781.9,407.2 782.7,408.0 783.5,407.8 784.3,405.5 785.1,402.6 785.9,402.5 786.7,404.7 787.5,407.0 788.3,408.1 789.1,407.2 789.9,406.7 790.7,407.4 791.5,407.5 792.3,406.5 793.1,405.5 793.9,404.4 794.7,404.7 795.5,405.6 796.3,405.7 797.0,406.6 797.8,407.6 798.6,407.9 799.4,407.5 800.2,405.6 801.0,403.2 801.8,403.1 802.6,404.6 803.4,405.4 804.2,404.6 805.0,404.3 805.8,405.4 806.6,405.7 807.4,404.2 808.2,403.6 809.0,404.0 809.8,403.8 810.6,404.3 811.3,404.1 812.1,403.3 812.9,403.5 813.7,404.3 814.5,405.6 815.3,407.1 816.1,407.6 816.9,406.7 817.7,405.6 818.5,405.3 819.3,405.7 820.1,405.5 820.9,404.6 821.7,404.9 822.5,405.3 823.3,405.7 824.1,406.5 824.9,406.8 825.7,406.2 826.4,405.5 827.2,405.6 828.0,405.5 828.8,405.5 829.6,406.0 830.4,406.4 831.2,405.9 832.0,404.7 832.8,403.5 833.6,402.9 834.4,402.9 835.2,403.9 836.0,405.1 836.8,407.4 837.6,408.3 838.4,406.8 839.2,405.8 840.0,404.5 840.8,402.8 841.5,402.5 842.3,403.8 843.1,404.2 843.9,402.3 844.7,399.8 845.5,399.2 846.3,400.6 847.1,401.8 847.9,401.4 848.7,400.9 849.5,400.3 850.3,398.9 851.1,397.5 851.9,396.2 852.7,395.5 853.5,396.6 854.3,397.6 855.1,397.0 855.9,395.4 856.6,395.6 857.4,397.2 858.2,398.2 859.0,398.0 859.8,396.9 860.6,396.4 861.4,396.5 862.2,396.8 863.0,397.3 863.8,398.4 864.6,399.0 865.4,397.8 866.2,396.6 867.0,397.3 867.8,397.2 868.6,395.8 869.4,395.5 870.2,396.6 870.9,397.0 871.7,395.9 872.5,395.4 873.3,397.0 874.1,399.2 874.9,400.3 875.7,400.5 876.5,402.2 877.3,403.0 878.1,402.6 878.9,402.6 879.7,402.3 880.5,401.9 881.3,401.2 882.1,400.7 882.9,400.0 883.7,400.0 884.5,401.2 885.3,402.8 886.0,404.6 886.8,405.5 887.6,405.0 888.4,404.5 889.2,403.8 890.0,403.3 890.8,404.2 891.6,404.9 892.4,404.2 893.2,402.8 894.0,402.5 894.8,404.3 895.6,406.6 896.4,408.4 897.2,409.0 898.0,408.9 898.8,408.2 899.6,407.7 900.4,407.2 901.1,407.8 901.9,409.3 902.7,409.8 903.5,407.7 904.3,406.2 905.1,406.4 905.9,406.0 906.7,405.6 907.5,405.4 908.3,406.1 909.1,407.5 909.9,407.4 910.7,406.3 911.5,406.0 912.3,406.3 913.1,406.5 913.9,405.8 914.7,405.0 915.5,405.0 916.2,405.6 917.0,405.9 917.8,405.7 918.6,406.6 919.4,408.5 920.2,409.6 921.0,407.1 921.8,403.9 922.6,404.1 923.4,405.9 924.2,407.8 925.0,408.7 925.8,407.1 926.6,405.1 927.4,405.8 928.2,407.2 929.0,408.1 929.8,408.0 930.5,407.0 931.3,406.4 932.1,405.7 932.9,406.5 933.7,408.4 934.5,408.9 935.3,406.6 936.1,405.2 936.9,406.2 937.7,407.3 938.5,407.6 939.3,406.7 940.1,406.5 940.9,407.8 941.7,408.2 942.5,407.5 943.3,407.1 944.1,407.7 944.9,407.6 945.6,406.8 946.4,405.2 947.2,404.6 948.0,405.9 948.8,407.8 949.6,409.1 950.4,409.0 951.2,409.1 952.0,410.2 952.8,410.6 953.6,409.1 954.4,408.2 955.2,407.7 956.0,407.2 956.8,407.1 957.6,406.9 958.4,405.4 959.2,404.6 960.0,405.1 960.7,406.0 961.5,407.5 962.3,407.9 963.1,407.3 963.9,407.0 964.7,406.7 965.5,406.9 966.3,408.1 967.1,408.9 967.9,407.5 968.7,405.7 969.5,405.9 970.3,406.3 971.1,405.3 971.9,404.8 972.7,404.2 973.5,403.7 974.3,405.3 975.1,407.3 975.8,407.1 976.6,406.7 977.4,407.6 978.2,408.9 979.0,408.8 979.8,407.1 980.6,406.1 981.4,406.3 982.2,406.5 983.0,406.4 983.8,405.8 984.6,404.5 985.4,403.6 986.2,403.6 987.0,403.5 987.8,403.9 988.6,405.2 989.4,406.7 990.1,406.7 990.9,405.9 991.7,406.3 992.5,406.6 993.3,405.0 994.1,402.8 994.9,402.9 995.7,405.4 996.5,406.8 997.3,405.9 998.1,405.6 998.9,406.9 999.7,407.1 1000.5,405.4 1001.3,403.4 1002.1,402.4 1002.9,402.7 1003.7,403.0 1004.5,404.0 1005.2,404.7 1006.0,404.8 1006.8,404.5 1007.6,403.6 1008.4,403.1 1009.2,402.7 1010.0,401.6 1010.8,400.8 1011.6,400.6 1012.4,399.3 1013.2,397.2 1014.0,395.8 1014.8,395.4 1015.6,394.4 1016.4,390.6 1017.2,385.6 1018.0,380.5 1018.8,375.5 1019.6,371.2 1020.3,367.4 1021.1,362.0 1021.9,354.6 1022.7,347.6 1023.5,341.8 1024.3,336.3 1025.1,331.9 1025.9,330.2 1026.7,330.4 1027.5,332.4 1028.3,336.2 1029.1,341.4 1029.9,347.5 1030.7,353.5 1031.5,360.2 1032.3,366.5 1033.1,371.5 1033.9,375.5 1034.7,378.3 1035.4,381.7 1036.2,385.7 1037.0,389.5 1037.8,392.7 1038.6,395.2 1039.4,396.9 1040.2,398.1 1041.0,398.8 1041.8,399.1 1042.6,399.5 1043.4,400.8 1044.2,401.7 1045.0,400.9 1045.8,401.6 1046.6,403.5 1047.4,404.6 1048.2,405.0 1049.0,403.8 1049.7,402.1 1050.5,401.6 1051.3,402.6 1052.1,404.8 1052.9,405.8 1053.7,405.0 1054.5,404.3 1055.3,403.2 1056.1,402.2 1056.9,401.9 1057.7,402.1 1058.5,403.2 1059.3,405.1 1060.1,406.5 1060.9,406.8 1061.7,406.0 1062.5,405.8 1063.3,405.9 1064.1,404.4 1064.8,402.4 1065.6,403.3 1066.4,405.0 1067.2,405.2 1068.0,405.8 1068.8,405.6 1069.6,404.5 1070.4,404.9 1071.2,405.9 1072.0,405.4 1072.8,404.9 1073.6,405.5 1074.4,406.5 1075.2,407.3 1076.0,407.2 1076.8,406.5 1077.6,406.1 1078.4,405.4 1079.2,404.6 1079.9,404.6 1080.7,406.1 1081.5,407.6 1082.3,407.6 1083.1,406.8 1083.9,406.3 1084.7,406.6 1085.5,407.0 1086.3,407.5 1087.1,409.1 1087.9,410.2 1088.7,410.9 1089.5,410.2 1090.3,408.8 1091.1,408.6 1091.9,408.9 1092.7,409.0 1093.5,408.6 1094.3,407.4 1095.0,406.5 1095.8,406.1 1096.6,406.0 1097.4,407.0 1098.2,408.2 1099.0,408.6 1099.8,408.4 1100.6,408.1 1101.4,407.4 1102.2,406.1 1103.0,406.4 1103.8,408.0 1104.6,409.4 1105.4,410.0 1106.2,409.8 1107.0,409.3 1107.8,408.7 1108.6,407.5 1109.3,406.6 1110.1,407.1 1110.9,409.6 1111.7,410.2 1112.5,407.9 1113.3,405.5 1114.1,404.2 1114.9,405.0 1115.7,406.6 1116.5,406.8 1117.3,406.0 1118.1,406.3 1118.9,407.3 1119.7,408.6 1120.5,409.0 1121.3,408.5 1122.1,408.0 1122.9,406.9 1123.7,406.0 1124.4,407.1 1125.2,408.2 1126.0,407.9 1126.8,407.1 1127.6,407.6 1128.4,408.1 1129.2,408.7 1130.0,408.5 1130.8,406.7 1131.6,406.5 1132.4,407.3 1133.2,406.9 1134.0,406.9 1134.8,408.1 1135.6,408.8 1136.4,409.2 1137.2,409.2 1138.0,409.5 1138.8,410.8 1139.5,411.5 1140.3,410.9 1141.1,410.9 1141.9,410.6 1142.7,409.5 1143.5,408.3 1144.3,407.2 1145.1,407.2 1145.9,408.1 1146.7,408.9 1147.5,408.8 1148.3,407.4 1149.1,406.8 1149.9,407.2 1150.7,408.2 1151.5,408.6 1152.3,408.1 1153.1,408.1 1153.9,407.9 1154.6,408.2 1155.4,409.0 1156.2,409.0 1157.0,409.0 1157.8,408.6 1158.6,407.7 1159.4,406.5 1160.2,405.6 1161.0,406.3 1161.8,407.6 1162.6,407.6 1163.4,407.5 1164.2,408.6 1165.0,408.3 1165.8,406.7 1166.6,406.4 1167.4,406.6 1168.2,406.0 1168.9,406.3 1169.7,407.4 1170.5,408.0 1171.3,408.2 1172.1,408.0 1172.9,407.6 1173.7,408.4 1174.5,409.1 1175.3,407.7 1176.1,407.1 1176.9,407.7 1177.7,408.4 1178.5,409.3 1179.3,409.2 1180.1,407.8 1180.9,406.9 1181.7,408.6 1182.5,409.6 1183.3,409.3 1184.0,409.7 1184.8,410.2 1185.6,410.9 1186.4,410.9 1187.2,409.0 1188.0,407.3 1188.8,406.6 1189.6,406.1 1190.4,405.9 1191.2,406.4 1192.0,407.7 1192.8,409.4 1193.6,409.4 1194.4,408.5 1195.2,407.8 1196.0,406.6 1196.8,406.7 1197.6,408.4 1198.4,409.9 1199.1,410.3 1199.9,410.4 1200.7,410.8 1201.5,410.8 1202.3,409.6 1203.1,407.2 1203.9,405.9 1204.7,407.1 1205.5,408.9 1206.3,409.6 1207.1,410.0 1207.9,410.0 1208.7,409.8 1209.5,409.2 1210.3,408.5 1211.1,408.2 1211.9,407.3 1212.7,406.5 1213.5,406.4 1214.2,406.8 1215.0,407.2 1215.8,407.7 1216.6,407.3 1217.4,407.3 1218.2,407.4 1219.0,407.7 1219.8,408.6 1220.6,408.9 1221.4,408.5 1222.2,406.8 1223.0,405.2 1223.8,405.4 1224.6,407.6 1225.4,409.0 1226.2,408.5 1227.0,407.6 1227.8,408.3 1228.5,409.9 1229.3,408.6 1230.1,405.9 1230.9,404.7 1231.7,405.6 1232.5,409.0 1233.3,411.4 1234.1,410.5 1234.9,408.1 1235.7,406.2 1236.5,405.8 1237.3,406.4 1238.1,406.4 1238.9,406.1 1239.7,406.2 1240.5,407.3 1241.3,409.2 1242.1,409.8 1242.9,408.6 1243.6,406.7 1244.4,405.1 1245.2,404.6 1246.0,405.7 1246.8,407.6 1247.6,408.6 1248.4,408.7 1249.2,407.8 1250.0,406.2 1250.8,405.1 1251.6,405.1 1252.4,406.3 1253.2,408.2 1254.0,408.3 1254.8,408.1 1255.6,408.5 1256.4,407.7 1257.2,407.0 1258.0,406.5 1258.7,406.2 1259.5,406.0 1260.3,406.5 1261.1,405.6 1261.9,402.8 1262.7,401.7 1263.5,403.3 1264.3,403.7 1265.1,402.8 1265.9,402.0 1266.7,402.0 1267.5,400.4 1268.3,397.2 1269.1,395.0 1269.9,392.6 1270.7,390.5 1271.5,390.3 1272.3,389.9 1273.1,388.3 1273.8,388.6 1274.6,390.6 1275.4,391.5 1276.2,391.5 1277.0,391.4 1277.8,392.7 1278.6,395.1 1279.4,397.3 1280.2,399.4 1281.0,401.1 1281.8,400.6 1282.6,399.6 1283.4,400.6 1284.2,403.1 1285.0,404.6 1285.8,404.3 1286.6,404.2 1287.4,404.4 1288.1,404.3 1288.9,404.6 1289.7,406.1 1290.5,407.5 1291.3,407.6 1292.1,407.0 1292.9,406.5 1293.7,406.5 1294.5,407.8 1295.3,408.4 1296.1,407.3 1296.9,406.6 1297.7,406.3 1298.5,404.4 1299.3,404.0 1300.1,405.5 1300.9,406.4 1301.7,406.2 1302.5,406.7 1303.2,407.2 1304.0,407.9 1304.8,409.3 1305.6,409.9 1306.4,408.6 1307.2,406.5 1308.0,405.9 1308.8,407.2 1309.6,406.8 1310.4,405.9 1311.2,407.5 1312.0,408.8 1312.8,408.0 1313.6,408.0 1314.4,409.8 1315.2,409.9 1316.0,409.0 1316.8,407.5 1317.6,405.8 1318.3,406.3 1319.1,408.3 1319.9,409.3 1320.7,407.7 1321.5,405.6 1322.3,404.7 1323.1,405.2 1323.9,406.4 1324.7,407.4 1325.5,408.5 1326.3,409.7 1327.1,409.6 1327.9,409.4 1328.7,409.4 1329.5,408.1 1330.3,405.9 1331.1,404.9 1331.9,405.6 1332.7,406.4 1333.4,406.6 1334.2,404.8 1335.0,403.6 1335.8,405.2 1336.6,406.6 1337.4,406.3 1338.2,406.0 1339.0,406.6 1339.8,407.0 1340.6,405.7 1341.4,403.7 1342.2,401.9 1343.0,401.7 1343.8,403.3 1344.6,403.1 1345.4,401.3 1346.2,400.6 1347.0,399.9 1347.7,398.6 1348.5,398.0 1349.3,397.3 1350.1,395.9 1350.9,395.4 1351.7,396.0 1352.5,396.3 1353.3,396.7 1354.1,397.4 1354.9,397.6 1355.7,397.4 1356.5,398.0 1357.3,399.4 1358.1,400.3 1358.9,399.9 1359.7,400.6 1360.5,401.9 1361.3,402.1 1362.1,402.0 1362.8,402.4 1363.6,402.8 1364.4,402.8 1365.2,403.2 1366.0,403.3 1366.8,403.2 1367.6,404.0 1368.4,404.9 1369.2,405.9 1370.0,406.5" fill="none" stroke="#ff0000" stroke-width="8.9" stroke-linejoin="round" stroke-linecap="round"/>
<polyline points="178.0,595.8 178.8,594.2 179.6,594.0 180.4,594.3 181.2,594.1 182.0,593.4 182.8,592.8 183.6,593.7 184.4,596.0 185.2,598.0 185.9,597.1 186.7,595.2 187.5,594.2 188.3,593.6 189.1,593.5 189.9,594.3 190.7,595.2 191.5,595.7 192.3,595.9 193.1,595.7 193.9,596.1 194.7,596.9 195.5,596.3 196.3,595.1 197.1,595.3 197.9,596.6 198.7,597.1 199.5,596.0 200.3,595.4 201.0,595.3 201.8,594.6 202.6,594.9 203.4,595.9 204.2,596.1 205.0,595.5 205.8,594.2 206.6,593.0 207.4,593.5 208.2,593.2 209.0,593.0 209.8,594.3 210.6,595.0 211.4,594.2 212.2,593.6 213.0,594.3 213.8,595.5 214.6,596.6 215.3,596.6 216.1,596.2 216.9,595.8 217.7,594.7 218.5,594.2 219.3,594.9 220.1,595.1 220.9,594.3 221.7,593.5 222.5,592.8 223.3,592.5 224.1,593.7 224.9,594.0 225.7,593.0 226.5,593.0 227.3,593.3 228.1,593.1 228.9,592.1 229.7,592.7 230.4,594.4 231.2,594.2 232.0,592.4 232.8,592.5 233.6,593.6 234.4,594.2 235.2,594.4 236.0,593.6 236.8,593.2 237.6,593.6 238.4,594.4 239.2,593.8 240.0,592.5 240.8,592.6 241.6,594.5 242.4,595.4 243.2,595.2 244.0,594.8 244.8,593.5 245.5,591.9 246.3,591.2 247.1,591.8 247.9,592.2 248.7,591.1 249.5,590.6 250.3,591.2 251.1,591.8 251.9,591.2 252.7,589.5 253.5,588.9 254.3,590.6 255.1,592.1 255.9,592.0 256.7,590.8 257.5,590.0 258.3,589.6 259.1,589.5 259.9,589.1 260.6,588.1 261.4,587.7 262.2,587.7 263.0,587.8 263.8,588.4 264.6,589.1 265.4,588.1 266.2,584.7 267.0,580.7 267.8,578.6 268.6,577.3 269.4,574.9 270.2,572.1 271.0,570.3 271.8,566.6 272.6,560.3 273.4,554.1 274.2,548.7 274.9,543.3 275.7,537.3 276.5,529.5 277.3,519.6 278.1,509.7 278.9,500.3 279.7,491.1 280.5,481.5 281.3,471.5 282.1,462.3 282.9,456.1 283.7,453.7 284.5,454.3 285.3,456.2 286.1,459.6 286.9,465.7 287.7,473.9 288.5,482.5 289.3,492.6 290.0,504.4 290.8,515.3 291.6,523.0 292.4,529.7 293.2,536.7 294.0,544.5 294.8,552.7 295.6,559.3 296.4,564.0 297.2,567.9 298.0,571.1 298.8,573.2 299.6,574.7 300.4,577.0 301.2,579.2 302.0,580.4 302.8,581.3 303.6,582.4 304.4,584.1 305.1,585.5 305.9,585.9 306.7,586.7 307.5,588.1 308.3,589.1 309.1,588.6 309.9,587.4 310.7,587.7 311.5,588.4 312.3,589.3 313.1,590.5 313.9,591.3 314.7,591.4 315.5,591.3 316.3,591.3 317.1,590.5 317.9,590.2 318.7,590.6 319.5,591.5 320.2,593.0 321.0,593.9 321.8,593.4 322.6,591.7 323.4,590.6 324.2,590.9 325.0,591.2 325.8,590.9 326.6,591.1 327.4,591.9 328.2,592.3 329.0,591.8 329.8,591.3 330.6,590.3 331.4,589.3 332.2,589.2 333.0,589.8 333.8,591.4 334.5,592.6 335.3,592.9 336.1,593.5 336.9,593.9 337.7,593.2 338.5,592.0 339.3,590.9 340.1,590.4 340.9,590.8 341.7,591.0 342.5,591.9 343.3,593.0 344.1,593.3 344.9,592.5 345.7,591.8 346.5,591.9 347.3,591.9 348.1,592.0 348.9,592.3 349.6,592.3 350.4,591.9 351.2,591.4 352.0,590.7 352.8,590.2 353.6,590.8 354.4,592.2 355.2,593.8 356.0,593.6 356.8,592.1 357.6,592.0 358.4,592.3 359.2,592.3 360.0,592.6 360.8,591.9 361.6,591.1 362.4,591.9 363.2,592.7 364.0,592.7 364.7,592.7 365.5,593.7 366.3,593.7 367.1,592.5 367.9,592.3 368.7,592.9 369.5,594.1 370.3,595.1 371.1,594.2 371.9,592.7 372.7,592.8 373.5,594.6 374.3,596.0 375.1,595.3 375.9,594.7 376.7,594.9 377.5,595.7 378.3,596.2 379.1,595.5 379.8,595.1 380.6,595.0 381.4,594.6 382.2,594.6 383.0,595.4 383.8,595.0 384.6,593.9 385.4,593.1 386.2,593.6 387.0,595.2 387.8,596.3 388.6,596.8 389.4,596.8 390.2,596.3 391.0,595.9 391.8,596.0 392.6,595.9 393.4,595.7 394.1,596.3 394.9,596.6 395.7,595.8 396.5,595.5 397.3,596.6 398.1,597.1 398.9,595.9 399.7,595.1 400.5,595.3 401.3,595.2 402.1,594.4 402.9,595.3 403.7,596.2 404.5,596.2 405.3,596.8 406.1,596.5 406.9,595.4 407.7,594.5 408.5,594.0 409.2,595.2 410.0,596.7 410.8,597.0 411.6,597.5 412.4,597.4 413.2,596.9 414.0,595.2 414.8,593.7 415.6,594.2 416.4,594.9 417.2,594.3 418.0,594.4 418.8,595.1 419.6,594.7 420.4,594.1 421.2,595.2 422.0,596.6 422.8,597.3 423.6,598.4 424.3,598.6 425.1,597.0 425.9,595.2 426.7,595.1 427.5,596.6 428.3,597.9 429.1,598.1 429.9,597.7 430.7,597.2 431.5,597.0 432.3,596.6 433.1,595.8 433.9,594.8 434.7,594.6 435.5,595.1 436.3,595.4 437.1,596.3 437.9,597.9 438.7,599.7 439.4,601.1 440.2,600.2 441.0,598.7 441.8,598.6 442.6,598.4 443.4,598.2 444.2,597.9 445.0,596.2 445.8,595.2 446.6,596.9 447.4,598.5 448.2,598.9 449.0,598.0 449.8,597.8 450.6,598.6 451.4,598.5 452.2,599.2 453.0,600.1 453.7,599.6 454.5,599.0 455.3,599.2 456.1,599.2 456.9,599.0 457.7,599.7 458.5,601.1 459.3,601.3 460.1,599.7 460.9,598.6 461.7,599.0 462.5,599.2 463.3,599.5 464.1,600.0 464.9,600.0 465.7,598.9 466.5,597.3 467.3,596.3 468.1,597.7 468.8,599.5 469.6,598.9 470.4,597.8 471.2,598.0 472.0,599.1 472.8,599.1 473.6,598.8 474.4,599.6 475.2,600.2 476.0,600.1 476.8,600.2 477.6,600.9 478.4,600.4 479.2,599.2 480.0,598.6 480.8,599.0 481.6,599.7 482.4,600.0 483.2,600.5 483.9,601.1 484.7,601.2 485.5,600.2 486.3,598.3 487.1,597.2 487.9,598.3 488.7,599.4 489.5,599.4 490.3,598.8 491.1,597.8 491.9,597.2 492.7,597.7 493.5,598.7 494.3,598.2 495.1,596.6 495.9,596.0 496.7,597.2 497.5,598.5 498.3,598.0 499.0,597.6 499.8,598.6 500.6,599.2 501.4,598.7 502.2,598.1 503.0,597.7 503.8,596.9 504.6,595.8 505.4,595.2 506.2,595.6 507.0,595.7 507.8,594.5 508.6,592.7 509.4,592.7 510.2,593.0 511.0,592.2 511.8,591.9 512.6,591.7 513.3,590.6 514.1,589.3 514.9,589.1 515.7,589.8 516.5,589.4 517.3,587.9 518.1,586.8 518.9,586.3 519.7,585.2 520.5,583.0 521.3,581.7 522.1,581.3 522.9,580.7 523.7,580.5 524.5,580.7 525.3,580.3 526.1,579.3 526.9,578.5 527.7,577.5 528.4,576.8 529.2,575.9 530.0,575.9 530.8,576.8 531.6,576.5 532.4,576.0 533.2,576.5 534.0,577.3 534.8,577.6 535.6,578.1 536.4,578.4 537.2,577.7 538.0,577.7 538.8,579.0 539.6,581.1 540.4,582.5 541.2,582.7 542.0,582.2 542.8,582.5 543.5,583.3 544.3,584.0 545.1,585.1 545.9,585.5 546.7,585.2 547.5,585.9 548.3,587.9 549.1,590.7 549.9,591.7 550.7,590.2 551.5,588.4 552.3,587.9 553.1,589.4 553.9,590.5 554.7,591.0 555.5,591.5 556.3,591.5 557.1,592.3 557.9,593.1 558.6,593.8 559.4,595.3 560.2,595.6 561.0,594.2 561.8,594.2 562.6,595.7 563.4,596.0 564.2,595.6 565.0,596.2 565.8,597.2 566.6,598.2 567.4,599.3 568.2,600.5 569.0,601.6 569.8,601.8 570.6,601.6 571.4,601.7 572.2,601.7 572.9,600.5 573.7,599.6 574.5,600.3 575.3,601.4 576.1,602.0 576.9,601.7 577.7,601.5 578.5,602.1 579.3,602.5 580.1,601.7 580.9,600.9 581.7,600.7 582.5,600.6 583.3,600.8 584.1,601.3 584.9,602.3 585.7,602.8 586.5,601.8 587.3,601.0 588.0,601.1 588.8,600.8 589.6,599.9 590.4,599.8 591.2,600.8 592.0,601.5 592.8,601.0 593.6,600.3 594.4,600.5 595.2,602.0 596.0,603.1 596.8,602.6 597.6,602.0 598.4,601.2 599.2,600.4 600.0,600.3 600.8,600.8 601.6,601.2 602.4,600.8 603.1,601.0 603.9,602.6 604.7,603.3 605.5,602.4 606.3,602.0 607.1,602.0 607.9,601.5 608.7,601.2 609.5,601.9 610.3,602.3 611.1,602.4 611.9,601.8 612.7,601.1 613.5,601.3 614.3,601.4 615.1,600.6 615.9,600.0 616.7,599.6 617.5,600.1 618.2,601.8 619.0,602.5 619.8,602.3 620.6,601.9 621.4,601.1 622.2,601.8 623.0,602.9 623.8,601.2 624.6,597.4 625.4,595.8 626.2,597.9 627.0,600.1 627.8,600.1 628.6,599.7 629.4,599.3 630.2,598.5 631.0,598.4 631.8,598.3 632.5,597.3 633.3,595.5 634.1,593.7 634.9,592.5 635.7,591.9 636.5,592.2 637.3,591.2 638.1,587.6 638.9,585.2 639.7,586.5 640.5,589.3 641.3,591.5 642.1,592.3 642.9,592.2 643.7,593.5 644.5,595.5 645.3,596.7 646.1,598.1 646.9,599.3 647.6,600.5 648.4,601.5 649.2,602.0 650.0,601.5 650.8,600.8 651.6,601.1 652.4,601.9 653.2,602.6 654.0,602.9 654.8,601.8 655.6,600.7 656.4,600.7 657.2,601.6 658.0,602.2 658.8,602.5 659.6,603.1 660.4,602.8 661.2,601.6 662.0,601.2 662.7,602.0 663.5,602.2 664.3,602.1 665.1,603.7 665.9,604.9 666.7,604.6 667.5,605.1 668.3,606.0 669.1,604.8 669.9,602.8 670.7,602.1 671.5,602.0 672.3,601.1 673.1,600.6 673.9,601.7 674.7,602.3 675.5,602.6 676.3,603.1 677.1,603.3 677.8,602.6 678.6,602.4 679.4,603.6 680.2,604.4 681.0,604.2 681.8,604.2 682.6,603.7 683.4,603.4 684.2,603.6 685.0,603.3 685.8,603.1 686.6,602.8 687.4,602.0 688.2,601.2 689.0,601.7 689.8,603.0 690.6,603.2 691.4,602.5 692.1,602.1 692.9,601.6 693.7,600.5 694.5,600.2 695.3,600.7 696.1,600.7 696.9,600.9 697.7,601.4 698.5,601.9 699.3,602.9 700.1,604.3 700.9,604.7 701.7,603.9 702.5,602.2 703.3,600.5 704.1,599.5 704.9,599.0 705.7,598.9 706.5,600.3 707.2,602.6 708.0,603.8 708.8,602.8 709.6,601.3 710.4,600.8 711.2,600.8 712.0,601.2 712.8,601.7 713.6,603.0 714.4,604.2 715.2,604.0 716.0,603.0 716.8,601.2 717.6,600.2 718.4,600.9 719.2,600.4 720.0,598.3 720.8,596.3 721.6,595.1 722.3,595.2 723.1,595.2 723.9,593.6 724.7,591.2 725.5,589.7 726.3,589.6 727.1,589.1 727.9,587.1 728.7,584.1 729.5,581.7 730.3,580.3 731.1,577.7 731.9,574.6 732.7,571.4 733.5,568.2 734.3,566.9 735.1,566.8 735.9,567.3 736.7,567.8 737.4,567.1 738.2,566.7 739.0,568.7 739.8,571.8 740.6,573.7 741.4,574.8 742.2,577.3 743.0,581.2 743.8,584.1 744.6,585.4 745.4,586.9 746.2,588.6 747.0,589.2 747.8,591.9 748.6,595.2 749.4,595.9 750.2,595.6 751.0,596.2 751.7,597.2 752.5,597.4 753.3,598.0 754.1,598.4 754.9,598.6 755.7,598.8 756.5,598.4 757.3,598.6 758.1,599.5 758.9,600.4 759.7,601.4 760.5,601.7 761.3,600.9 762.1,600.2 762.9,600.3 763.7,601.1 764.5,601.9 765.3,602.0 766.1,601.9 766.8,601.4 767.6,601.3 768.4,601.6 769.2,601.5 770.0,602.2 770.8,602.7 771.6,601.6 772.4,600.6 773.2,599.9 774.0,599.8 774.8,600.0 775.6,600.7 776.4,601.7 777.2,603.1 778.0,604.3 778.8,604.1 779.6,603.5 780.4,602.6 781.2,601.6 781.9,600.5 782.7,600.5 783.5,602.5 784.3,604.3 785.1,604.0 785.9,603.6 786.7,603.8 787.5,602.7 788.3,601.3 789.1,600.6 789.9,601.2 790.7,603.0 791.5,604.3 792.3,603.1 793.1,601.6 793.9,601.3 794.7,601.2 795.5,601.2 796.3,602.5 797.0,603.8 797.8,603.9 798.6,602.9 799.4,601.3 800.2,601.6 801.0,603.6 801.8,603.8 802.6,602.5 803.4,602.6 804.2,603.4 805.0,603.7 805.8,603.4 806.6,603.0 807.4,603.1 808.2,603.0 809.0,601.7 809.8,599.3 810.6,598.3 811.3,599.3 812.1,600.9 812.9,602.7 813.7,603.9 814.5,603.6 815.3,603.2 816.1,603.6 816.9,604.0 817.7,603.8 818.5,604.2 819.3,604.6 820.1,604.7 820.9,604.5 821.7,603.7 822.5,603.1 823.3,602.0 824.1,601.2 824.9,601.5 825.7,602.1 826.4,602.0 827.2,601.9 828.0,602.6 828.8,604.4 829.6,605.5 830.4,605.3 831.2,605.4 832.0,605.5 832.8,605.2 833.6,603.2 834.4,602.1 835.2,602.6 836.0,602.0 836.8,600.5 837.6,599.7 838.4,599.4 839.2,600.0 840.0,601.1 840.8,602.2 841.5,601.2 842.3,598.7 843.1,597.5 843.9,597.2 844.7,597.1 845.5,597.6 846.3,597.6 847.1,596.7 847.9,596.4 848.7,597.1 849.5,597.4 850.3,596.1 851.1,593.6 851.9,591.2 852.7,588.8 853.5,586.7 854.3,584.8 855.1,583.0 855.9,580.8 856.6,579.8 857.4,580.2 858.2,580.2 859.0,579.8 859.8,580.7 860.6,582.5 861.4,583.5 862.2,584.0 863.0,585.0 863.8,586.4 864.6,587.3 865.4,586.1 866.2,583.3 867.0,581.9 867.8,582.9 868.6,583.5 869.4,582.4 870.2,580.5 870.9,578.1 871.7,577.0 872.5,577.8 873.3,578.8 874.1,579.1 874.9,579.7 875.7,581.5 876.5,584.0 877.3,586.2 878.1,587.5 878.9,588.9 879.7,591.3 880.5,593.8 881.3,594.5 882.1,594.2 882.9,594.6 883.7,596.2 884.5,597.6 885.3,597.2 886.0,598.0 886.8,600.2 887.6,601.4 888.4,601.5 889.2,601.9 890.0,602.6 890.8,602.7 891.6,602.9 892.4,603.3 893.2,603.4 894.0,602.8 894.8,601.8 895.6,601.2 896.4,600.1 897.2,599.9 898.0,600.9 898.8,601.4 899.6,601.6 900.4,602.2 901.1,603.0 901.9,602.4 902.7,601.6 903.5,602.3 904.3,602.9 905.1,602.9 905.9,604.1 906.7,605.4 907.5,604.8 908.3,603.3 909.1,602.5 909.9,601.7 910.7,599.7 911.5,598.5 912.3,599.9 913.1,602.2 913.9,603.9 914.7,603.4 915.5,601.8 916.2,601.6 917.0,602.3 917.8,602.2 918.6,602.2 919.4,602.8 920.2,603.4 921.0,603.8 921.8,604.6 922.6,605.6 923.4,605.3 924.2,604.6 925.0,605.6 925.8,605.7 926.6,604.8 927.4,603.9 928.2,603.8 929.0,604.2 929.8,604.5 930.5,604.9 931.3,604.3 932.1,603.3 932.9,603.7 933.7,604.7 934.5,604.7 935.3,603.8 936.1,603.2 936.9,602.7 937.7,602.1 938.5,602.9 939.3,604.4 940.1,604.3 940.9,603.8 941.7,604.3 942.5,605.9 943.3,606.4 944.1,605.3 944.9,604.5 945.6,604.8 946.4,606.0 947.2,605.7 948.0,604.9 948.8,605.3 949.6,605.5 950.4,605.1 951.2,604.4 952.0,603.6 952.8,603.7 953.6,604.3 954.4,604.2 955.2,604.6 956.0,605.5 956.8,604.8 957.6,603.6 958.4,603.9 959.2,605.2 960.0,605.9 960.7,605.6 961.5,604.6 962.3,603.2 963.1,603.0 963.9,603.7 964.7,604.2 965.5,604.2 966.3,604.6 967.1,606.1 967.9,605.7 968.7,605.5 969.5,606.1 970.3,605.8 971.1,603.7 971.9,601.5 972.7,602.3 973.5,603.8 974.3,603.2 975.1,602.0 975.8,602.5 976.6,604.7 977.4,605.2 978.2,604.3 979.0,604.1 979.8,603.9 980.6,603.6 981.4,604.2 982.2,605.3 983.0,606.3 983.8,606.5 984.6,605.6 985.4,604.8 986.2,604.5 987.0,603.9 987.8,604.0 988.6,605.0 989.4,605.2 990.1,605.2 990.9,605.0 991.7,604.6 992.5,605.2 993.3,605.5 994.1,605.2 994.9,604.5 995.7,602.9 996.5,601.9 997.3,602.6 998.1,603.9 998.9,605.0 999.7,604.9 1000.5,604.5 1001.3,605.1 1002.1,606.3 1002.9,606.4 1003.7,605.4 1004.5,604.5 1005.2,603.7 1006.0,603.6 1006.8,603.7 1007.6,603.2 1008.4,602.1 1009.2,600.2 1010.0,598.7 1010.8,598.7 1011.6,600.5 1012.4,602.1 1013.2,601.3 1014.0,598.6 1014.8,597.4 1015.6,598.0 1016.4,597.3 1017.2,596.1 1018.0,596.0 1018.8,595.9 1019.6,595.1 1020.3,593.8 1021.1,592.1 1021.9,589.7 1022.7,587.2 1023.5,585.6 1024.3,584.7 1025.1,583.6 1025.9,581.4 1026.7,580.4 1027.5,581.5 1028.3,582.7 1029.1,582.7 1029.9,581.2 1030.7,579.2 1031.5,579.2 1032.3,580.3 1033.1,581.0 1033.9,581.8 1034.7,584.0 1035.4,586.0 1036.2,587.4 1037.0,589.6 1037.8,592.0 1038.6,593.5 1039.4,595.0 1040.2,596.2 1041.0,596.7 1041.8,597.0 1042.6,597.8 1043.4,598.7 1044.2,598.6 1045.0,598.9 1045.8,599.9 1046.6,600.6 1047.4,601.8 1048.2,602.8 1049.0,602.8 1049.7,603.1 1050.5,603.7 1051.3,603.0 1052.1,601.4 1052.9,601.9 1053.7,603.7 1054.5,603.1 1055.3,601.2 1056.1,601.2 1056.9,602.4 1057.7,603.2 1058.5,604.2 1059.3,604.7 1060.1,604.4 1060.9,604.2 1061.7,605.6 1062.5,606.5 1063.3,606.1 1064.1,606.5 1064.8,606.8 1065.6,606.0 1066.4,604.5 1067.2,603.4 1068.0,604.0 1068.8,605.8 1069.6,607.2 1070.4,607.7 1071.2,607.4 1072.0,606.4 1072.8,604.7 1073.6,604.0 1074.4,604.9 1075.2,605.5 1076.0,604.7 1076.8,603.4 1077.6,603.0 1078.4,603.3 1079.2,603.8 1079.9,604.1 1080.7,604.8 1081.5,605.7 1082.3,606.3 1083.1,605.9 1083.9,604.0 1084.7,603.5 1085.5,606.0 1086.3,608.0 1087.1,608.1 1087.9,607.1 1088.7,606.3 1089.5,605.1 1090.3,604.1 1091.1,604.4 1091.9,605.4 1092.7,606.1 1093.5,606.1 1094.3,604.9 1095.0,605.0 1095.8,605.6 1096.6,604.6 1097.4,603.3 1098.2,603.2 1099.0,604.8 1099.8,606.7 1100.6,607.0 1101.4,606.3 1102.2,605.9 1103.0,606.1 1103.8,605.5 1104.6,604.6 1105.4,604.8 1106.2,606.0 1107.0,606.8 1107.8,606.8 1108.6,607.2 1109.3,607.2 1110.1,605.4 1110.9,604.7 1111.7,605.9 1112.5,606.3 1113.3,605.9 1114.1,605.6 1114.9,605.6 1115.7,605.7 1116.5,605.7 1117.3,605.3 1118.1,604.2 1118.9,604.0 1119.7,604.7 1120.5,605.3 1121.3,605.7 1122.1,605.4 1122.9,604.9 1123.7,604.7 1124.4,603.8 1125.2,602.7 1126.0,602.6 1126.8,603.3 1127.6,604.3 1128.4,605.5 1129.2,606.6 1130.0,607.5 1130.8,608.0 1131.6,607.5 1132.4,606.9 1133.2,607.2 1134.0,606.7 1134.8,605.5 1135.6,605.5 1136.4,605.9 1137.2,605.9 1138.0,605.8 1138.8,605.4 1139.5,604.7 1140.3,604.0 1141.1,603.5 1141.9,603.2 1142.7,602.5 1143.5,601.7 1144.3,602.7 1145.1,603.8 1145.9,603.3 1146.7,602.4 1147.5,601.5 1148.3,600.2 1149.1,599.6 1149.9,600.0 1150.7,600.9 1151.5,601.2 1152.3,600.9 1153.1,600.4 1153.9,599.5 1154.6,599.6 1155.4,601.1 1156.2,601.8 1157.0,600.4 1157.8,599.7 1158.6,600.8 1159.4,601.3 1160.2,600.5 1161.0,600.3 1161.8,601.2 1162.6,602.4 1163.4,602.7 1164.2,603.0 1165.0,604.1 1165.8,603.7 1166.6,603.0 1167.4,603.5 1168.2,604.5 1168.9,605.5 1169.7,604.5 1170.5,602.4 1171.3,601.2 1172.1,601.0 1172.9,601.3 1173.7,601.8 1174.5,602.1 1175.3,602.6 1176.1,602.1 1176.9,601.6 1177.7,600.8 1178.5,599.5 1179.3,599.8 1180.1,601.4 1180.9,602.0 1181.7,602.1 1182.5,602.1 1183.3,601.7 1184.0,601.0 1184.8,600.3 1185.6,600.9 1186.4,602.5 1187.2,602.7 1188.0,603.4 1188.8,605.2 1189.6,605.3 1190.4,604.0 1191.2,603.3 1192.0,603.4 1192.8,603.7 1193.6,604.6 1194.4,605.2 1195.2,605.6 1196.0,606.3 1196.8,607.3 1197.6,607.9 1198.4,606.7 1199.1,604.8 1199.9,604.2 1200.7,603.5 1201.5,603.4 1202.3,604.3 1203.1,604.6 1203.9,605.0 1204.7,605.4 1205.5,604.6 1206.3,604.3 1207.1,605.6 1207.9,606.5 1208.7,605.4 1209.5,603.7 1210.3,603.8 1211.1,605.7 1211.9,607.5 1212.7,607.8 1213.5,607.5 1214.2,606.9 1215.0,606.0 1215.8,605.8 1216.6,605.3 1217.4,604.6 1218.2,604.8 1219.0,605.0 1219.8,605.0 1220.6,605.9 1221.4,606.7 1222.2,606.2 1223.0,605.3 1223.8,605.8 1224.6,606.9 1225.4,606.3 1226.2,605.3 1227.0,605.8 1227.8,606.5 1228.5,606.4 1229.3,607.1 1230.1,607.7 1230.9,606.3 1231.7,604.5 1232.5,603.7 1233.3,604.5 1234.1,605.6 1234.9,604.7 1235.7,603.2 1236.5,603.3 1237.3,604.5 1238.1,605.1 1238.9,604.8 1239.7,604.8 1240.5,604.8 1241.3,605.2 1242.1,605.6 1242.9,605.2 1243.6,604.5 1244.4,604.2 1245.2,604.0 1246.0,603.5 1246.8,604.1 1247.6,605.2 1248.4,605.3 1249.2,604.5 1250.0,603.7 1250.8,603.3 1251.6,602.8 1252.4,603.1 1253.2,603.5 1254.0,602.9 1254.8,601.6 1255.6,600.6 1256.4,600.5 1257.2,601.4 1258.0,601.7 1258.7,601.1 1259.5,600.5 1260.3,600.9 1261.1,601.6 1261.9,601.1 1262.7,600.0 1263.5,599.9 1264.3,599.3 1265.1,598.6 1265.9,598.5 1266.7,598.0 1267.5,597.2 1268.3,596.8 1269.1,596.9 1269.9,596.6 1270.7,595.6 1271.5,594.7 1272.3,594.9 1273.1,596.0 1273.8,596.6 1274.6,596.3 1275.4,595.8 1276.2,594.5 1277.0,593.5 1277.8,593.5 1278.6,593.6 1279.4,594.5 1280.2,595.1 1281.0,594.9 1281.8,595.9 1282.6,597.3 1283.4,597.0 1284.2,596.5 1285.0,596.6 1285.8,596.4 1286.6,596.3 1287.4,595.9 1288.1,595.8 1288.9,596.9 1289.7,597.0 1290.5,597.3 1291.3,598.5 1292.1,598.7 1292.9,598.5 1293.7,598.7 1294.5,598.6 1295.3,598.4 1296.1,598.6 1296.9,599.8 1297.7,601.5 1298.5,602.5 1299.3,603.2 1300.1,603.5 1300.9,602.8 1301.7,602.4 1302.5,603.4 1303.2,604.7 1304.0,604.6 1304.8,604.2 1305.6,604.1 1306.4,604.4 1307.2,604.6 1308.0,604.2 1308.8,603.6 1309.6,603.0 1310.4,603.5 1311.2,604.9 1312.0,606.0 1312.8,606.0 1313.6,605.0 1314.4,604.6 1315.2,605.2 1316.0,605.0 1316.8,604.5 1317.6,605.5 1318.3,606.8 1319.1,606.3 1319.9,604.4 1320.7,603.7 1321.5,603.9 1322.3,603.1 1323.1,602.7 1323.9,602.7 1324.7,602.4 1325.5,602.7 1326.3,604.5 1327.1,606.3 1327.9,606.6 1328.7,606.3 1329.5,606.4 1330.3,607.2 1331.1,607.3 1331.9,606.2 1332.7,604.8 1333.4,604.5 1334.2,604.7 1335.0,605.2 1335.8,605.2 1336.6,604.9 1337.4,605.9 1338.2,607.1 1339.0,607.1 1339.8,606.1 1340.6,604.7 1341.4,604.0 1342.2,604.3 1343.0,605.9 1343.8,607.1 1344.6,606.8 1345.4,605.6 1346.2,604.9 1347.0,605.1 1347.7,604.3 1348.5,602.7 1349.3,602.6 1350.1,603.9 1350.9,605.5 1351.7,606.8 1352.5,606.1 1353.3,605.0 1354.1,605.6 1354.9,606.6 1355.7,606.4 1356.5,606.8 1357.3,607.6 1358.1,608.0 1358.9,607.2 1359.7,606.4 1360.5,606.5 1361.3,606.9 1362.1,607.2 1362.8,607.7 1363.6,608.0 1364.4,607.2 1365.2,606.2 1366.0,605.7 1366.8,605.8 1367.6,606.2 1368.4,606.7 1369.2,606.7 1370.0,606.1" fill="none" stroke="#00ff00" stroke-width="8.9" stroke-linejoin="round" stroke-linecap="round"/>
<polyline points="178.0,776.9 178.8,777.9 179.6,779.0 180.4,778.0 181.2,776.3 182.0,776.1 182.8,776.4 183.6,776.1 184.4,775.9 185.2,776.9 185.9,778.4 186.7,779.1 187.5,778.6 188.3,777.5 189.1,777.2 189.9,777.5 190.7,777.0 191.5,777.0 192.3,776.6 193.1,775.7 193.9,775.5 194.7,776.1 195.5,777.0 196.3,777.7 197.1,777.3 197.9,775.9 198.7,775.6 199.5,776.0 200.3,775.8 201.0,775.0 201.8,775.3 202.6,775.8 203.4,776.0 204.2,777.1 205.0,778.0 205.8,778.3 206.6,777.6 207.4,775.9 208.2,775.4 209.0,776.4 209.8,777.5 210.6,777.3 211.4,776.0 212.2,775.1 213.0,774.9 213.8,775.2 214.6,775.9 215.3,777.1 216.1,777.9 216.9,776.9 217.7,776.1 218.5,775.8 219.3,775.3 220.1,775.4 220.9,776.1 221.7,776.1 222.5,775.9 223.3,776.4 224.1,776.4 224.9,776.6 225.7,777.2 226.5,777.5 227.3,777.3 228.1,776.5 228.9,775.9 229.7,775.4 230.4,775.3 231.2,775.6 232.0,774.9 232.8,775.2 233.6,776.5 234.4,776.1 235.2,775.7 236.0,776.7 236.8,776.8 237.6,776.2 238.4,775.0 239.2,773.8 240.0,772.5 240.8,772.1 241.6,773.3 242.4,775.4 243.2,777.3 244.0,777.7 244.8,776.4 245.5,775.6 246.3,774.8 247.1,773.6 247.9,772.4 248.7,771.9 249.5,772.2 250.3,772.6 251.1,773.2 251.9,773.9 252.7,774.6 253.5,774.5 254.3,774.2 255.1,774.2 255.9,773.3 256.7,772.0 257.5,771.1 258.3,770.9 259.1,770.9 259.9,770.1 260.6,768.6 261.4,766.7 262.2,764.3 263.0,761.8 263.8,759.5 264.6,757.7 265.4,754.8 266.2,750.9 267.0,746.6 267.8,741.4 268.6,736.0 269.4,730.3 270.2,722.9 271.0,714.7 271.8,706.6 272.6,698.6 273.4,691.2 274.2,683.0 274.9,675.3 275.7,669.1 276.5,662.0 277.3,654.6 278.1,649.8 278.9,647.8 279.7,647.2 280.5,647.7 281.3,651.1 282.1,656.9 282.9,663.6 283.7,671.1 284.5,678.4 285.3,685.3 286.1,692.5 286.9,700.8 287.7,710.8 288.5,720.0 289.3,727.3 290.0,734.6 290.8,740.7 291.6,745.1 292.4,749.1 293.2,752.7 294.0,755.8 294.8,759.0 295.6,762.5 296.4,765.5 297.2,767.2 298.0,768.3 298.8,769.4 299.6,770.1 300.4,771.1 301.2,772.2 302.0,772.6 302.8,772.9 303.6,773.0 304.4,772.7 305.1,772.8 305.9,773.8 306.7,774.9 307.5,775.6 308.3,775.8 309.1,773.7 309.9,771.7 310.7,773.1 311.5,775.1 312.3,774.8 313.1,773.7 313.9,774.0 314.7,775.5 315.5,776.1 316.3,775.8 317.1,775.8 317.9,775.9 318.7,774.8 319.5,773.6 320.2,773.7 321.0,773.9 321.8,773.8 322.6,773.5 323.4,772.0 324.2,771.2 325.0,773.2 325.8,774.0 326.6,772.9 327.4,772.0 328.2,771.5 329.0,771.0 329.8,771.3 330.6,771.4 331.4,771.0 332.2,770.7 333.0,771.8 333.8,773.7 334.5,774.5 335.3,773.8 336.1,772.6 336.9,772.5 337.7,773.7 338.5,773.9 339.3,772.8 340.1,772.1 340.9,771.3 341.7,771.7 342.5,772.1 343.3,771.3 344.1,771.4 344.9,773.0 345.7,774.1 346.5,774.4 347.3,774.6 348.1,774.8 348.9,775.3 349.6,775.1 350.4,774.9 351.2,775.2 352.0,776.2 352.8,777.6 353.6,777.8 354.4,776.1 355.2,774.0 356.0,772.8 356.8,773.0 357.6,773.9 358.4,774.4 359.2,774.6 360.0,774.8 360.8,774.3 361.6,773.4 362.4,773.9 363.2,775.7 364.0,776.2 364.7,775.8 365.5,775.7 366.3,774.8 367.1,773.8 367.9,773.8 368.7,775.2 369.5,776.4 370.3,777.0 371.1,776.9 371.9,776.5 372.7,776.6 373.5,776.9 374.3,776.2 375.1,775.9 375.9,776.5 376.7,777.5 377.5,778.5 378.3,778.7 379.1,778.0 379.8,777.3 380.6,776.7 381.4,777.0 382.2,777.9 383.0,778.5 383.8,777.9 384.6,777.1 385.4,777.1 386.2,777.0 387.0,776.4 387.8,776.1 388.6,777.3 389.4,779.1 390.2,778.9 391.0,777.5 391.8,775.8 392.6,775.3 393.4,776.2 394.1,777.1 394.9,777.4 395.7,777.2 396.5,778.1 397.3,778.6 398.1,777.9 398.9,777.5 399.7,777.3 400.5,777.9 401.3,779.0 402.1,779.2 402.9,778.4 403.7,778.2 404.5,778.2 405.3,777.3 406.1,776.8 406.9,776.7 407.7,777.4 408.5,779.0 409.2,780.9 410.0,782.2 410.8,782.0 411.6,780.6 412.4,779.0 413.2,778.1 414.0,777.4 414.8,777.3 415.6,778.4 416.4,778.0 417.2,777.4 418.0,778.3 418.8,780.0 419.6,780.4 420.4,779.7 421.2,779.2 422.0,778.6 422.8,778.2 423.6,778.5 424.3,778.4 425.1,778.2 425.9,778.6 426.7,778.3 427.5,778.1 428.3,777.8 429.1,777.8 429.9,778.5 430.7,779.0 431.5,778.8 432.3,779.7 433.1,780.6 433.9,780.1 434.7,779.9 435.5,780.2 436.3,780.0 437.1,779.9 437.9,780.0 438.7,780.4 439.4,780.1 440.2,780.2 441.0,780.9 441.8,780.6 442.6,779.6 443.4,779.0 444.2,779.3 445.0,780.2 445.8,781.0 446.6,780.9 447.4,779.9 448.2,780.4 449.0,781.6 449.8,782.0 450.6,782.4 451.4,782.9 452.2,782.4 453.0,782.0 453.7,782.4 454.5,783.2 455.3,782.7 456.1,781.4 456.9,780.8 457.7,780.9 458.5,781.9 459.3,782.1 460.1,781.1 460.9,779.9 461.7,779.7 462.5,780.8 463.3,781.3 464.1,781.4 464.9,781.4 465.7,780.7 466.5,780.0 467.3,779.9 468.1,781.0 468.8,782.8 469.6,782.4 470.4,781.5 471.2,780.3 472.0,778.8 472.8,779.5 473.6,780.4 474.4,780.4 475.2,780.0 476.0,779.5 476.8,780.3 477.6,780.2 478.4,778.5 479.2,778.3 480.0,779.5 480.8,780.2 481.6,780.3 482.4,780.6 483.2,780.1 483.9,779.1 484.7,778.5 485.5,777.3 486.3,776.1 487.1,777.0 487.9,779.5 488.7,781.0 489.5,780.8 490.3,779.3 491.1,778.8 491.9,779.4 492.7,779.7 493.5,779.6 494.3,778.8 495.1,777.0 495.9,775.9 496.7,777.4 497.5,779.9 498.3,780.7 499.0,779.8 499.8,778.1 500.6,776.9 501.4,776.8 502.2,777.3 503.0,777.7 503.8,778.3 504.6,778.1 505.4,776.8 506.2,775.7 507.0,775.2 507.8,775.4 508.6,775.0 509.4,774.6 510.2,775.2 511.0,775.3 511.8,773.8 512.6,771.9 513.3,771.0 514.1,770.8 514.9,770.3 515.7,769.9 516.5,770.2 517.3,770.0 518.1,769.5 518.9,769.7 519.7,769.3 520.5,768.1 521.3,768.6 522.1,768.6 522.9,766.6 523.7,764.7 524.5,763.5 525.3,763.3 526.1,763.1 526.9,762.4 527.7,761.2 528.4,760.4 529.2,760.3 530.0,760.1 530.8,760.1 531.6,760.0 532.4,760.0 533.2,760.5 534.0,760.4 534.8,759.8 535.6,760.3 536.4,760.6 537.2,760.4 538.0,760.6 538.8,761.6 539.6,762.9 540.4,764.0 541.2,764.9 542.0,766.0 542.8,766.9 543.5,768.2 544.3,768.8 545.1,769.1 545.9,771.0 546.7,772.4 547.5,771.9 548.3,771.7 549.1,772.0 549.9,772.3 550.7,772.6 551.5,773.4 552.3,774.9 553.1,775.9 553.9,776.6 554.7,777.7 555.5,778.1 556.3,777.6 557.1,777.8 557.9,779.0 558.6,778.2 559.4,775.9 560.2,775.7 561.0,777.6 561.8,779.7 562.6,780.4 563.4,779.9 564.2,779.9 565.0,779.7 565.8,779.4 566.6,779.8 567.4,780.3 568.2,780.3 569.0,779.9 569.8,779.1 570.6,779.4 571.4,780.5 572.2,781.3 572.9,781.8 573.7,782.1 574.5,781.2 575.3,780.4 576.1,780.8 576.9,781.7 577.7,782.7 578.5,783.8 579.3,784.3 580.1,784.4 580.9,784.0 581.7,783.6 582.5,783.7 583.3,783.3 584.1,782.6 584.9,782.2 585.7,782.6 586.5,783.3 587.3,784.9 588.0,786.8 588.8,787.4 589.6,786.2 590.4,785.0 591.2,784.6 592.0,784.0 592.8,783.3 593.6,783.2 594.4,783.3 595.2,783.9 596.0,784.5 596.8,784.0 597.6,783.8 598.4,783.9 599.2,783.1 600.0,782.3 600.8,783.0 601.6,784.4 602.4,785.0 603.1,784.6 603.9,783.8 604.7,783.7 605.5,783.9 606.3,783.3 607.1,782.8 607.9,782.8 608.7,783.5 609.5,784.5 610.3,784.3 611.1,783.4 611.9,784.1 612.7,784.7 613.5,785.2 614.3,785.3 615.1,784.7 615.9,784.8 616.7,785.2 617.5,784.8 618.2,784.5 619.0,784.7 619.8,784.6 620.6,784.6 621.4,785.5 622.2,784.5 623.0,782.9 623.8,784.3 624.6,787.1 625.4,787.6 626.2,785.7 627.0,784.1 627.8,784.8 628.6,786.2 629.4,786.0 630.2,785.1 631.0,785.0 631.8,785.6 632.5,785.8 633.3,786.2 634.1,787.0 634.9,787.5 635.7,786.6 636.5,785.1 637.3,784.7 638.1,786.0 638.9,786.4 639.7,784.7 640.5,783.1 641.3,783.9 642.1,786.2 642.9,787.9 643.7,787.9 644.5,787.5 645.3,787.5 646.1,786.6 646.9,784.7 647.6,783.5 648.4,783.5 649.2,784.2 650.0,784.8 650.8,784.8 651.6,784.5 652.4,784.8 653.2,785.8 654.0,787.1 654.8,787.8 655.6,788.8 656.4,788.0 657.2,786.3 658.0,786.2 658.8,785.7 659.6,784.9 660.4,785.3 661.2,785.7 662.0,785.4 662.7,784.9 663.5,785.2 664.3,785.6 665.1,785.2 665.9,784.6 666.7,784.4 667.5,784.3 668.3,783.9 669.1,784.0 669.9,785.6 670.7,786.5 671.5,786.5 672.3,786.2 673.1,786.0 673.9,786.5 674.7,785.9 675.5,785.9 676.3,786.7 677.1,786.8 677.8,785.4 678.6,784.1 679.4,783.4 680.2,782.8 681.0,783.7 681.8,785.4 682.6,786.3 683.4,785.5 684.2,784.4 685.0,783.7 685.8,783.7 686.6,784.3 687.4,784.6 688.2,783.9 689.0,783.4 689.8,783.4 690.6,784.0 691.4,784.2 692.1,783.6 692.9,784.0 693.7,785.2 694.5,786.3 695.3,786.1 696.1,784.7 696.9,783.1 697.7,783.3 698.5,785.3 699.3,786.8 700.1,786.8 700.9,786.3 701.7,785.1 702.5,784.9 703.3,785.2 704.1,784.7 704.9,784.7 705.7,785.1 706.5,785.4 707.2,785.2 708.0,783.5 708.8,781.7 709.6,780.5 710.4,780.8 711.2,781.6 712.0,782.2 712.8,782.4 713.6,782.1 714.4,780.7 715.2,779.9 716.0,780.7 716.8,780.7 717.6,779.7 718.4,780.1 719.2,781.5 720.0,781.6 720.8,780.5 721.6,778.7 722.3,776.7 723.1,775.1 723.9,774.0 724.7,772.4 725.5,770.6 726.3,769.2 727.1,768.1 727.9,766.6 728.7,765.2 729.5,763.8 730.3,761.0 731.1,759.0 731.9,757.9 732.7,756.3 733.5,755.2 734.3,754.1 735.1,753.2 735.9,754.5 736.7,756.8 737.4,759.4 738.2,762.4 739.0,765.3 739.8,768.0 740.6,769.9 741.4,770.7 742.2,771.5 743.0,772.3 743.8,772.9 744.6,774.8 745.4,777.1 746.2,777.3 747.0,776.7 747.8,777.8 748.6,780.0 749.4,781.2 750.2,780.7 751.0,779.1 751.7,778.9 752.5,779.9 753.3,780.7 754.1,781.7 754.9,782.6 755.7,783.1 756.5,783.5 757.3,784.1 758.1,784.3 758.9,783.6 759.7,783.3 760.5,784.4 761.3,784.8 762.1,784.4 762.9,783.5 763.7,782.8 764.5,783.2 765.3,783.1 766.1,783.4 766.8,784.6 767.6,784.9 768.4,785.3 769.2,786.1 770.0,785.4 770.8,783.4 771.6,783.2 772.4,783.7 773.2,782.3 774.0,781.2 774.8,783.0 775.6,785.0 776.4,785.6 777.2,785.2 778.0,784.6 778.8,784.6 779.6,784.5 780.4,784.4 781.2,784.8 781.9,784.7 782.7,784.7 783.5,785.8 784.3,786.2 785.1,784.6 785.9,782.7 786.7,783.2 787.5,783.9 788.3,783.9 789.1,784.0 789.9,784.3 790.7,785.3 791.5,785.6 792.3,785.6 793.1,786.2 793.9,786.0 794.7,784.9 795.5,784.3 796.3,785.5 797.0,786.8 797.8,786.1 798.6,785.4 799.4,786.5 800.2,787.4 801.0,786.3 801.8,784.1 802.6,782.6 803.4,782.7 804.2,783.8 805.0,784.9 805.8,784.9 806.6,783.6 807.4,782.6 808.2,782.9 809.0,783.9 809.8,784.8 810.6,784.8 811.3,785.3 812.1,785.6 812.9,785.2 813.7,785.4 814.5,784.9 815.3,783.9 816.1,783.9 816.9,785.0 817.7,785.1 818.5,784.3 819.3,784.6 820.1,784.6 820.9,784.3 821.7,784.5 822.5,785.0 823.3,785.4 824.1,785.5 824.9,785.9 825.7,786.9 826.4,786.3 827.2,784.0 828.0,782.7 828.8,783.4 829.6,784.6 830.4,785.7 831.2,786.6 832.0,786.5 832.8,785.4 833.6,784.2 834.4,783.3 835.2,783.2 836.0,783.5 836.8,782.4 837.6,781.1 838.4,780.4 839.2,780.1 840.0,779.3 840.8,777.5 841.5,775.8 842.3,774.8 843.1,773.5 843.9,772.5 844.7,771.7 845.5,769.8 846.3,768.4 847.1,769.3 847.9,770.1 848.7,770.2 849.5,768.6 850.3,765.6 851.1,764.2 851.9,764.8 852.7,765.1 853.5,764.5 854.3,764.5 855.1,764.8 855.9,764.5 856.6,764.8 857.4,765.3 858.2,764.8 859.0,764.2 859.8,762.7 860.6,761.2 861.4,761.1 862.2,761.5 863.0,761.7 863.8,762.1 864.6,762.5 865.4,762.7 866.2,762.6 867.0,762.5 867.8,762.9 868.6,763.6 869.4,765.0 870.2,766.1 870.9,766.1 871.7,766.7 872.5,767.6 873.3,769.5 874.1,772.0 874.9,773.6 875.7,774.5 876.5,774.4 877.3,774.7 878.1,775.6 878.9,776.7 879.7,777.6 880.5,778.5 881.3,779.9 882.1,781.2 882.9,781.3 883.7,781.0 884.5,780.6 885.3,780.0 886.0,779.6 886.8,780.2 887.6,780.9 888.4,781.3 889.2,782.3 890.0,782.4 890.8,782.2 891.6,783.0 892.4,784.2 893.2,785.0 894.0,785.9 894.8,787.3 895.6,787.0 896.4,785.2 897.2,784.3 898.0,783.3 898.8,782.8 899.6,783.9 900.4,785.1 901.1,785.1 901.9,785.4 902.7,786.5 903.5,786.6 904.3,786.8 905.1,787.3 905.9,786.3 906.7,784.5 907.5,783.8 908.3,784.6 909.1,786.0 909.9,787.0 910.7,786.9 911.5,785.8 912.3,785.3 913.1,785.8 913.9,785.4 914.7,784.1 915.5,784.1 916.2,785.4 917.0,786.4 917.8,786.3 918.6,786.0 919.4,785.9 920.2,785.1 921.0,785.8 921.8,787.3 922.6,787.1 923.4,786.1 924.2,786.8 925.0,787.5 925.8,786.9 926.6,786.2 927.4,785.9 928.2,784.9 929.0,784.3 929.8,784.2 930.5,784.5 931.3,785.1 932.1,785.2 932.9,785.0 933.7,786.0 934.5,787.1 935.3,786.9 936.1,786.6 936.9,786.0 937.7,785.1 938.5,785.1 939.3,786.0 940.1,787.5 940.9,788.8 941.7,788.2 942.5,786.0 943.3,784.3 944.1,783.2 944.9,783.6 945.6,785.5 946.4,785.5 947.2,784.5 948.0,786.0 948.8,788.1 949.6,787.8 950.4,786.7 951.2,785.6 952.0,784.3 952.8,783.6 953.6,784.1 954.4,785.1 955.2,786.0 956.0,787.3 956.8,788.2 957.6,787.8 958.4,786.7 959.2,785.4 960.0,785.6 960.7,787.5 961.5,788.1 962.3,787.0 963.1,785.2 963.9,784.4 964.7,784.6 965.5,783.9 966.3,784.0 967.1,785.0 967.9,786.0 968.7,786.7 969.5,785.8 970.3,784.5 971.1,784.4 971.9,784.4 972.7,784.8 973.5,784.5 974.3,783.8 975.1,783.5 975.8,783.9 976.6,785.3 977.4,786.8 978.2,787.0 979.0,786.9 979.8,787.3 980.6,788.0 981.4,788.3 982.2,786.9 983.0,785.2 983.8,784.4 984.6,784.2 985.4,784.6 986.2,785.5 987.0,786.4 987.8,786.6 988.6,786.0 989.4,785.3 990.1,784.1 990.9,782.7 991.7,781.8 992.5,782.8 993.3,785.1 994.1,786.3 994.9,785.1 995.7,784.1 996.5,783.5 997.3,783.1 998.1,783.7 998.9,783.3 999.7,781.6 1000.5,780.9 1001.3,781.7 1002.1,782.6 1002.9,783.5 1003.7,783.8 1004.5,783.9 1005.2,784.2 1006.0,784.9 1006.8,785.0 1007.6,784.2 1008.4,782.1 1009.2,779.7 1010.0,778.7 1010.8,779.1 1011.6,779.6 1012.4,780.2 1013.2,780.8 1014.0,779.6 1014.8,778.0 1015.6,776.4 1016.4,775.5 1017.2,776.0 1018.0,776.0 1018.8,774.6 1019.6,772.8 1020.3,772.2 1021.1,772.3 1021.9,771.9 1022.7,771.1 1023.5,771.6 1024.3,772.0 1025.1,771.1 1025.9,771.1 1026.7,772.6 1027.5,773.7 1028.3,774.6 1029.1,775.3 1029.9,775.2 1030.7,774.0 1031.5,773.6 1032.3,775.1 1033.1,776.6 1033.9,777.7 1034.7,779.0 1035.4,780.3 1036.2,780.9 1037.0,781.7 1037.8,782.3 1038.6,782.1 1039.4,782.0 1040.2,781.9 1041.0,782.4 1041.8,783.0 1042.6,782.1 1043.4,781.3 1044.2,782.3 1045.0,783.6 1045.8,784.0 1046.6,783.6 1047.4,782.7 1048.2,782.9 1049.0,785.0 1049.7,786.1 1050.5,784.5 1051.3,783.5 1052.1,784.2 1052.9,782.8 1053.7,780.7 1054.5,781.3 1055.3,782.6 1056.1,784.7 1056.9,787.3 1057.7,787.6 1058.5,786.6 1059.3,786.6 1060.1,786.8 1060.9,786.1 1061.7,785.9 1062.5,786.1 1063.3,786.5 1064.1,786.3 1064.8,786.2 1065.6,787.3 1066.4,788.2 1067.2,788.2 1068.0,786.9 1068.8,786.0 1069.6,786.1 1070.4,786.5 1071.2,786.2 1072.0,786.7 1072.8,787.8 1073.6,787.8 1074.4,787.2 1075.2,787.1 1076.0,787.1 1076.8,786.7 1077.6,785.4 1078.4,784.9 1079.2,786.0 1079.9,787.0 1080.7,788.3 1081.5,789.7 1082.3,790.7 1083.1,789.9 1083.9,788.3 1084.7,786.9 1085.5,785.7 1086.3,785.6 1087.1,785.6 1087.9,784.6 1088.7,783.0 1089.5,783.4 1090.3,785.5 1091.1,786.3 1091.9,785.9 1092.7,785.6 1093.5,785.5 1094.3,786.0 1095.0,786.7 1095.8,786.9 1096.6,786.5 1097.4,785.0 1098.2,784.0 1099.0,784.5 1099.8,785.1 1100.6,785.0 1101.4,785.4 1102.2,786.4 1103.0,787.9 1103.8,788.6 1104.6,788.0 1105.4,787.1 1106.2,787.6 1107.0,788.3 1107.8,787.6 1108.6,786.7 1109.3,786.6 1110.1,787.4 1110.9,788.0 1111.7,788.3 1112.5,788.6 1113.3,788.8 1114.1,787.4 1114.9,786.1 1115.7,786.8 1116.5,788.1 1117.3,788.1 1118.1,786.9 1118.9,786.0 1119.7,785.7 1120.5,785.1 1121.3,785.1 1122.1,786.9 1122.9,787.6 1123.7,786.2 1124.4,785.3 1125.2,785.5 1126.0,786.0 1126.8,786.6 1127.6,786.5 1128.4,785.8 1129.2,784.3 1130.0,783.1 1130.8,782.8 1131.6,783.8 1132.4,785.7 1133.2,786.7 1134.0,786.0 1134.8,784.5 1135.6,783.5 1136.4,784.1 1137.2,784.9 1138.0,786.6 1138.8,787.4 1139.5,786.1 1140.3,784.9 1141.1,783.5 1141.9,781.6 1142.7,780.8 1143.5,781.5 1144.3,782.7 1145.1,783.5 1145.9,783.6 1146.7,783.0 1147.5,781.5 1148.3,780.6 1149.1,781.1 1149.9,781.2 1150.7,781.2 1151.5,781.8 1152.3,781.4 1153.1,781.3 1153.9,781.7 1154.6,782.0 1155.4,783.0 1156.2,783.7 1157.0,783.6 1157.8,782.9 1158.6,782.2 1159.4,782.4 1160.2,783.7 1161.0,785.0 1161.8,785.0 1162.6,784.7 1163.4,784.9 1164.2,784.0 1165.0,782.5 1165.8,782.7 1166.6,783.1 1167.4,782.3 1168.2,782.0 1168.9,782.5 1169.7,783.0 1170.5,783.2 1171.3,783.2 1172.1,784.4 1172.9,785.5 1173.7,784.0 1174.5,781.3 1175.3,780.2 1176.1,780.7 1176.9,781.3 1177.7,782.1 1178.5,784.2 1179.3,786.2 1180.1,785.9 1180.9,784.1 1181.7,783.4 1182.5,783.6 1183.3,784.5 1184.0,785.4 1184.8,784.6 1185.6,784.2 1186.4,785.4 1187.2,787.1 1188.0,788.3 1188.8,788.0 1189.6,785.8 1190.4,784.7 1191.2,786.3 1192.0,788.1 1192.8,787.7 1193.6,785.7 1194.4,785.9 1195.2,788.4 1196.0,789.9 1196.8,789.4 1197.6,788.5 1198.4,787.8 1199.1,786.3 1199.9,785.5 1200.7,786.2 1201.5,787.4 1202.3,788.2 1203.1,787.5 1203.9,786.2 1204.7,786.5 1205.5,786.6 1206.3,785.9 1207.1,786.1 1207.9,786.9 1208.7,786.8 1209.5,785.9 1210.3,785.3 1211.1,785.6 1211.9,786.3 1212.7,786.4 1213.5,786.6 1214.2,787.0 1215.0,786.6 1215.8,786.6 1216.6,788.0 1217.4,788.6 1218.2,787.7 1219.0,786.9 1219.8,786.9 1220.6,785.8 1221.4,785.0 1222.2,786.6 1223.0,788.2 1223.8,788.0 1224.6,788.3 1225.4,788.6 1226.2,787.8 1227.0,786.9 1227.8,787.0 1228.5,787.1 1229.3,786.9 1230.1,787.2 1230.9,787.4 1231.7,787.3 1232.5,787.6 1233.3,787.5 1234.1,786.7 1234.9,786.4 1235.7,786.5 1236.5,786.3 1237.3,785.7 1238.1,785.6 1238.9,786.5 1239.7,787.4 1240.5,787.1 1241.3,786.5 1242.1,786.8 1242.9,786.7 1243.6,786.1 1244.4,786.1 1245.2,786.0 1246.0,785.8 1246.8,785.6 1247.6,784.6 1248.4,783.6 1249.2,784.0 1250.0,784.5 1250.8,785.3 1251.6,785.9 1252.4,785.4 1253.2,785.1 1254.0,785.4 1254.8,785.2 1255.6,784.4 1256.4,784.5 1257.2,785.9 1258.0,786.7 1258.7,786.2 1259.5,785.3 1260.3,784.4 1261.1,784.1 1261.9,783.6 1262.7,783.0 1263.5,783.0 1264.3,782.3 1265.1,781.5 1265.9,782.6 1266.7,784.0 1267.5,784.2 1268.3,783.5 1269.1,782.4 1269.9,782.1 1270.7,782.3 1271.5,782.4 1272.3,783.2 1273.1,783.9 1273.8,783.5 1274.6,784.0 1275.4,784.9 1276.2,784.1 1277.0,783.1 1277.8,783.6 1278.6,784.0 1279.4,783.3 1280.2,782.8 1281.0,784.0 1281.8,785.9 1282.6,787.0 1283.4,786.2 1284.2,785.1 1285.0,785.3 1285.8,785.5 1286.6,785.4 1287.4,785.9 1288.1,786.8 1288.9,786.7 1289.7,785.8 1290.5,785.0 1291.3,784.6 1292.1,784.7 1292.9,785.8 1293.7,786.5 1294.5,787.2 1295.3,787.3 1296.1,786.8 1296.9,787.2 1297.7,787.8 1298.5,787.5 1299.3,786.7 1300.1,786.7 1300.9,787.7 1301.7,787.7 1302.5,786.8 1303.2,786.6 1304.0,787.3 1304.8,787.1 1305.6,786.4 1306.4,786.3 1307.2,787.0 1308.0,787.6 1308.8,787.3 1309.6,787.0 1310.4,787.7 1311.2,789.2 1312.0,789.3 1312.8,787.7 1313.6,786.5 1314.4,786.2 1315.2,786.0 1316.0,786.9 1316.8,787.9 1317.6,788.9 1318.3,790.2 1319.1,790.4 1319.9,789.1 1320.7,788.4 1321.5,788.8 1322.3,788.4 1323.1,786.7 1323.9,785.9 1324.7,785.6 1325.5,785.3 1326.3,786.3 1327.1,787.6 1327.9,787.6 1328.7,787.5 1329.5,787.8 1330.3,788.5 1331.1,788.7 1331.9,788.0 1332.7,787.0 1333.4,787.0 1334.2,787.6 1335.0,788.5 1335.8,788.8 1336.6,788.3 1337.4,787.8 1338.2,787.7 1339.0,787.5 1339.8,787.0 1340.6,786.5 1341.4,786.3 1342.2,786.7 1343.0,787.4 1343.8,787.7 1344.6,788.5 1345.4,787.7 1346.2,785.6 1347.0,785.0 1347.7,785.9 1348.5,786.7 1349.3,787.8 1350.1,788.7 1350.9,788.5 1351.7,787.9 1352.5,788.3 1353.3,789.1 1354.1,789.5 1354.9,790.5 1355.7,790.5 1356.5,789.2 1357.3,789.1 1358.1,789.2 1358.9,788.6 1359.7,788.5 1360.5,788.5 1361.3,787.7 1362.1,787.8 1362.8,788.0 1363.6,788.4 1364.4,789.3 1365.2,790.0 1366.0,790.5 1366.8,789.5 1367.6,788.0 1368.4,787.5 1369.2,787.7 1370.0,788.2" fill="none" stroke="#0000ff" stroke-width="8.9" stroke-linejoin="round" stroke-linecap="round"/>
<polyline points="178.0,928.4 178.8,928.3 179.6,928.5 180.4,928.8 181.2,928.9 182.0,928.7 182.8,928.4 183.6,928.4 184.4,928.6 185.2,928.5 185.9,928.2 186.7,927.8 187.5,927.7 188.3,927.6 189.1,927.4 189.9,927.0 190.7,926.6 191.5,926.5 192.3,926.5 193.1,926.5 193.9,926.6 194.7,926.7 195.5,926.7 196.3,926.7 197.1,926.6 197.9,926.3 198.7,925.9 199.5,925.6 200.3,925.5 201.0,925.4 201.8,925.4 202.6,925.4 203.4,925.4 204.2,925.2 205.0,924.9 205.8,924.6 206.6,924.5 207.4,924.5 208.2,924.7 209.0,924.9 209.8,925.0 210.6,924.8 211.4,924.4 212.2,924.1 213.0,924.0 213.8,923.9 214.6,923.8 215.3,923.6 216.1,923.7 216.9,923.8 217.7,923.9 218.5,923.7 219.3,923.5 220.1,923.3 220.9,923.3 221.7,923.7 222.5,924.4 223.3,924.9 224.1,925.2 224.9,925.2 225.7,925.0 226.5,924.7 227.3,924.6 228.1,924.6 228.9,924.7 229.7,924.8 230.4,924.8 231.2,924.8 232.0,924.9 232.8,924.9 233.6,924.9 234.4,925.0 235.2,925.0 236.0,925.0 236.8,924.9 237.6,924.7 238.4,924.6 239.2,924.9 240.0,925.2 240.8,925.3 241.6,925.2 242.4,925.0 243.2,924.9 244.0,924.8 244.8,924.7 245.5,924.7 246.3,924.7 247.1,924.7 247.9,924.7 248.7,924.8 249.5,924.8 250.3,924.6 251.1,924.1 251.9,923.6 252.7,923.4 253.5,924.0 254.3,924.6 255.1,925.1 255.9,925.4 256.7,925.6 257.5,925.9 258.3,926.2 259.1,926.1 259.9,926.2 260.6,926.2 261.4,926.2 262.2,925.8 263.0,925.4 263.8,925.2 264.6,924.9 265.4,924.6 266.2,924.2 267.0,923.8 267.8,923.3 268.6,923.0 269.4,922.9 270.2,922.9 271.0,923.0 271.8,922.9 272.6,922.8 273.4,922.5 274.2,921.9 274.9,921.4 275.7,921.1 276.5,920.9 277.3,920.8 278.1,921.0 278.9,921.1 279.7,921.2 280.5,921.3 281.3,921.4 282.1,921.5 282.9,921.6 283.7,921.6 284.5,921.7 285.3,921.6 286.1,921.4 286.9,921.0 287.7,920.7 288.5,920.4 289.3,920.4 290.0,920.7 290.8,920.8 291.6,920.7 292.4,920.4 293.2,920.3 294.0,920.4 294.8,920.3 295.6,920.1 296.4,919.8 297.2,919.4 298.0,919.0 298.8,919.0 299.6,919.2 300.4,919.3 301.2,919.2 302.0,918.9 302.8,918.7 303.6,918.6 304.4,918.7 305.1,919.0 305.9,919.2 306.7,919.1 307.5,918.9 308.3,918.7 309.1,918.7 309.9,918.8 310.7,919.0 311.5,919.4 312.3,919.9 313.1,920.2 313.9,920.2 314.7,920.1 315.5,919.9 316.3,919.6 317.1,919.6 317.9,919.9 318.7,920.3 319.5,920.5 320.2,920.8 321.0,921.2 321.8,921.6 322.6,921.7 323.4,921.5 324.2,921.4 325.0,921.4 325.8,921.3 326.6,921.2 327.4,921.3 328.2,921.4 329.0,921.4 329.8,921.2 330.6,921.0 331.4,921.1 332.2,921.2 333.0,921.0 333.8,920.6 334.5,920.1 335.3,919.9 336.1,920.0 336.9,920.0 337.7,919.9 338.5,920.2 339.3,920.7 340.1,921.1 340.9,921.3 341.7,921.5 342.5,921.6 343.3,921.8 344.1,922.2 344.9,922.7 345.7,923.0 346.5,923.1 347.3,922.9 348.1,922.7 348.9,922.5 349.6,922.4 350.4,922.4 351.2,922.8 352.0,923.4 352.8,923.9 353.6,924.1 354.4,924.2 355.2,924.1 356.0,923.9 356.8,923.5 357.6,923.3 358.4,923.3 359.2,923.2 360.0,923.2 360.8,923.4 361.6,923.8 362.4,924.0 363.2,924.0 364.0,924.1 364.7,924.4 365.5,924.6 366.3,924.7 367.1,924.7 367.9,924.7 368.7,925.0 369.5,925.3 370.3,925.3 371.1,925.1 371.9,924.8 372.7,924.6 373.5,924.7 374.3,924.8 375.1,924.8 375.9,924.6 376.7,924.5 377.5,924.7 378.3,924.9 379.1,925.1 379.8,925.4 380.6,925.7 381.4,926.0 382.2,926.4 383.0,926.6 383.8,926.6 384.6,926.4 385.4,926.3 386.2,926.4 387.0,926.6 387.8,927.0 388.6,927.3 389.4,927.4 390.2,927.4 391.0,927.6 391.8,928.0 392.6,928.5 393.4,928.9 394.1,929.2 394.9,929.7 395.7,929.9 396.5,929.8 397.3,929.7 398.1,929.6 398.9,929.6 399.7,929.6 400.5,929.8 401.3,930.0 402.1,930.1 402.9,930.0 403.7,929.7 404.5,929.6 405.3,929.8 406.1,930.0 406.9,930.1 407.7,930.2 408.5,930.3 409.2,930.3 410.0,930.2 410.8,930.2 411.6,930.3 412.4,930.6 413.2,930.7 414.0,930.7 414.8,930.7 415.6,930.9 416.4,931.1 417.2,931.3 418.0,931.2 418.8,931.3 419.6,931.5 420.4,931.9 421.2,932.4 422.0,932.7 422.8,933.0 423.6,933.0 424.3,932.7 425.1,932.2 425.9,931.9 426.7,931.9 427.5,932.2 428.3,932.4 429.1,932.6 429.9,932.7 430.7,933.0 431.5,933.6 432.3,934.5 433.1,935.1 433.9,935.4 434.7,935.6 435.5,935.7 436.3,935.5 437.1,935.2 437.9,934.9 438.7,934.9 439.4,934.9 440.2,935.1 441.0,935.4 441.8,935.7 442.6,936.0 443.4,936.3 444.2,936.5 445.0,936.9 445.8,937.5 446.6,937.9 447.4,938.2 448.2,938.4 449.0,938.3 449.8,937.9 450.6,937.5 451.4,937.3 452.2,937.2 453.0,937.2 453.7,937.2 454.5,937.3 455.3,937.7 456.1,938.1 456.9,938.3 457.7,938.4 458.5,938.5 459.3,938.7 460.1,938.9 460.9,939.2 461.7,939.5 462.5,939.8 463.3,940.1 464.1,940.3 464.9,940.4 465.7,940.3 466.5,940.4 467.3,940.5 468.1,940.4 468.8,940.1 469.6,939.8 470.4,940.1 471.2,940.9 472.0,941.8 472.8,942.3 473.6,942.6 474.4,942.5 475.2,942.5 476.0,942.6 476.8,942.9 477.6,943.4 478.4,943.8 479.2,944.2 480.0,944.5 480.8,944.6 481.6,944.6 482.4,944.7 483.2,945.0 483.9,945.5 484.7,945.8 485.5,946.0 486.3,946.1 487.1,946.0 487.9,945.8 488.7,945.5 489.5,945.3 490.3,945.2 491.1,945.1 491.9,944.9 492.7,944.6 493.5,944.4 494.3,944.4 495.1,944.5 495.9,944.7 496.7,944.9 497.5,945.3 498.3,945.8 499.0,946.2 499.8,946.3 500.6,946.2 501.4,946.3 502.2,946.5 503.0,946.9 503.8,947.3 504.6,947.4 505.4,947.4 506.2,947.4 507.0,947.7 507.8,948.1 508.6,948.4 509.4,948.4 510.2,948.6 511.0,948.9 511.8,949.0 512.6,948.9 513.3,948.7 514.1,948.7 514.9,948.8 515.7,949.0 516.5,949.3 517.3,949.7 518.1,949.9 518.9,949.9 519.7,949.9 520.5,950.1 521.3,950.2 522.1,950.3 522.9,950.5 523.7,950.7 524.5,950.9 525.3,951.1 526.1,951.4 526.9,951.7 527.7,952.0 528.4,952.3 529.2,952.6 530.0,952.5 530.8,952.3 531.6,952.0 532.4,952.0 533.2,952.3 534.0,952.6 534.8,952.7 535.6,952.5 536.4,952.4 537.2,952.3 538.0,952.4 538.8,952.6 539.6,952.8 540.4,953.1 541.2,953.4 542.0,953.6 542.8,953.5 543.5,953.5 544.3,953.7 545.1,954.0 545.9,954.1 546.7,954.1 547.5,954.2 548.3,954.3 549.1,954.4 549.9,954.3 550.7,954.0 551.5,953.6 552.3,953.3 553.1,953.6 553.9,954.0 554.7,954.3 555.5,954.3 556.3,954.1 557.1,953.8 557.9,953.6 558.6,953.6 559.4,953.5 560.2,953.6 561.0,953.7 561.8,953.9 562.6,954.1 563.4,954.2 564.2,954.4 565.0,954.3 565.8,954.0 566.6,953.6 567.4,953.7 568.2,954.2 569.0,954.8 569.8,955.1 570.6,954.9 571.4,954.4 572.2,954.0 572.9,953.7 573.7,953.4 574.5,953.0 575.3,952.7 576.1,952.4 576.9,952.2 577.7,952.0 578.5,952.1 579.3,952.3 580.1,952.4 580.9,952.4 581.7,952.2 582.5,952.1 583.3,952.1 584.1,952.3 584.9,952.5 585.7,952.7 586.5,952.7 587.3,952.4 588.0,952.4 588.8,952.7 589.6,953.3 590.4,953.6 591.2,953.4 592.0,953.2 592.8,953.1 593.6,953.2 594.4,953.5 595.2,953.6 596.0,953.6 596.8,953.5 597.6,953.7 598.4,954.2 599.2,954.6 600.0,955.0 600.8,955.1 601.6,955.0 602.4,954.5 603.1,954.0 603.9,953.8 604.7,953.8 605.5,953.5 606.3,953.0 607.1,952.6 607.9,952.5 608.7,952.8 609.5,953.0 610.3,952.8 611.1,952.6 611.9,952.6 612.7,953.0 613.5,953.4 614.3,953.4 615.1,953.1 615.9,952.7 616.7,952.7 617.5,952.9 618.2,952.9 619.0,952.7 619.8,952.2 620.6,951.8 621.4,951.3 622.2,951.0 623.0,951.0 623.8,951.0 624.6,950.8 625.4,950.5 626.2,950.6 627.0,951.1 627.8,951.4 628.6,951.4 629.4,951.1 630.2,950.9 631.0,950.8 631.8,950.8 632.5,951.1 633.3,951.3 634.1,951.6 634.9,951.6 635.7,951.5 636.5,951.3 637.3,951.0 638.1,950.9 638.9,951.0 639.7,951.3 640.5,951.6 641.3,951.8 642.1,952.0 642.9,952.2 643.7,952.5 644.5,952.9 645.3,953.2 646.1,953.4 646.9,953.4 647.6,953.4 648.4,953.5 649.2,953.5 650.0,953.5 650.8,953.6 651.6,953.5 652.4,953.6 653.2,953.6 654.0,953.6 654.8,953.4 655.6,953.0 656.4,952.5 657.2,952.0 658.0,951.6 658.8,951.4 659.6,951.3 660.4,951.4 661.2,951.6 662.0,951.7 662.7,951.6 663.5,951.4 664.3,951.3 665.1,951.4 665.9,951.6 666.7,951.7 667.5,951.4 668.3,950.7 669.1,950.0 669.9,949.5 670.7,949.3 671.5,949.4 672.3,949.5 673.1,949.8 673.9,950.1 674.7,950.2 675.5,950.0 676.3,949.6 677.1,949.1 677.8,948.7 678.6,948.4 679.4,948.2 680.2,948.1 681.0,948.3 681.8,948.6 682.6,949.0 683.4,949.3 684.2,949.4 685.0,949.5 685.8,949.6 686.6,949.4 687.4,949.2 688.2,949.5 689.0,950.1 689.8,950.6 690.6,950.8 691.4,950.7 692.1,950.5 692.9,950.1 693.7,949.9 694.5,950.1 695.3,950.5 696.1,951.0 696.9,951.5 697.7,951.7 698.5,951.7 699.3,951.8 700.1,951.9 700.9,951.9 701.7,952.0 702.5,952.3 703.3,952.6 704.1,952.5 704.9,952.1 705.7,951.7 706.5,951.8 707.2,952.3 708.0,952.8 708.8,952.9 709.6,952.9 710.4,952.9 711.2,953.1 712.0,953.3 712.8,953.5 713.6,953.9 714.4,954.3 715.2,954.4 716.0,954.3 716.8,954.1 717.6,953.9 718.4,953.7 719.2,953.7 720.0,953.8 720.8,953.9 721.6,953.9 722.3,953.8 723.1,953.6 723.9,953.3 724.7,953.1 725.5,953.2 726.3,953.6 727.1,954.0 727.9,954.4 728.7,954.7 729.5,954.8 730.3,954.6 731.1,954.4 731.9,954.2 732.7,954.2 733.5,954.4 734.3,954.7 735.1,955.0 735.9,955.2 736.7,955.3 737.4,955.2 738.2,955.0 739.0,954.8 739.8,954.4 740.6,954.2 741.4,954.3 742.2,954.6 743.0,954.9 743.8,954.9 744.6,954.9 745.4,955.1 746.2,955.5 747.0,955.5 747.8,955.3 748.6,955.2 749.4,955.3 750.2,955.6 751.0,955.9 751.7,955.9 752.5,955.7 753.3,955.4 754.1,955.5 754.9,955.8 755.7,956.0 756.5,956.0 757.3,955.9 758.1,955.9 758.9,956.2 759.7,956.4 760.5,956.3 761.3,956.0 762.1,956.0 762.9,956.3 763.7,956.8 764.5,957.3 765.3,957.5 766.1,957.3 766.8,957.0 767.6,956.8 768.4,956.8 769.2,956.8 770.0,956.9 770.8,956.9 771.6,956.9 772.4,957.0 773.2,957.1 774.0,957.2 774.8,957.6 775.6,958.0 776.4,958.2 777.2,958.2 778.0,958.0 778.8,957.8 779.6,957.9 780.4,958.0 781.2,958.0 781.9,957.9 782.7,958.0 783.5,958.3 784.3,958.7 785.1,958.9 785.9,958.9 786.7,958.8 787.5,958.6 788.3,958.7 789.1,959.0 789.9,959.4 790.7,959.5 791.5,959.4 792.3,959.2 793.1,958.8 793.9,958.3 794.7,957.9 795.5,957.9 796.3,958.2 797.0,958.5 797.8,958.9 798.6,959.3 799.4,959.8 800.2,960.2 801.0,960.5 801.8,960.6 802.6,960.5 803.4,960.4 804.2,960.3 805.0,960.2 805.8,960.4 806.6,960.8 807.4,961.2 808.2,961.4 809.0,961.5 809.8,961.4 810.6,961.1 811.3,960.9 812.1,960.9 812.9,961.1 813.7,961.4 814.5,961.9 815.3,962.3 816.1,962.5 816.9,962.3 817.7,962.2 818.5,962.0 819.3,961.9 820.1,961.7 820.9,961.6 821.7,961.4 822.5,961.1 823.3,961.0 824.1,961.1 824.9,961.4 825.7,961.6 826.4,961.4 827.2,961.0 828.0,960.7 828.8,960.4 829.6,960.1 830.4,959.8 831.2,959.4 832.0,959.2 832.8,959.3 833.6,959.6 834.4,959.8 835.2,959.6 836.0,959.1 836.8,958.9 837.6,958.8 838.4,958.9 839.2,959.0 840.0,958.8 840.8,958.4 841.5,957.9 842.3,957.4 843.1,957.2 843.9,957.3 844.7,957.4 845.5,957.4 846.3,957.4 847.1,957.5 847.9,957.8 848.7,957.8 849.5,957.6 850.3,957.6 851.1,957.8 851.9,958.2 852.7,958.5 853.5,958.8 854.3,959.2 855.1,959.4 855.9,959.4 856.6,959.3 857.4,959.1 858.2,959.1 859.0,959.2 859.8,959.7 860.6,960.4 861.4,961.2 862.2,961.8 863.0,961.7 863.8,961.3 864.6,960.9 865.4,960.9 866.2,961.0 867.0,961.1 867.8,961.5 868.6,962.0 869.4,962.4 870.2,962.5 870.9,962.1 871.7,961.5 872.5,961.0 873.3,960.5 874.1,960.2 874.9,960.1 875.7,959.9 876.5,959.5 877.3,959.1 878.1,959.1 878.9,959.5 879.7,960.1 880.5,960.7 881.3,961.1 882.1,961.4 882.9,961.5 883.7,961.6 884.5,961.6 885.3,961.4 886.0,961.3 886.8,961.3 887.6,961.3 888.4,961.3 889.2,961.4 890.0,961.5 890.8,961.3 891.6,960.9 892.4,960.4 893.2,960.2 894.0,960.3 894.8,960.5 895.6,960.4 896.4,959.9 897.2,959.3 898.0,958.9 898.8,958.5 899.6,958.1 900.4,957.9 901.1,957.7 901.9,957.5 902.7,957.0 903.5,956.5 904.3,956.1 905.1,956.3 905.9,956.3 906.7,956.2 907.5,956.4 908.3,956.9 909.1,957.5 909.9,957.8 910.7,958.0 911.5,958.2 912.3,958.0 913.1,957.6 913.9,957.4 914.7,957.6 915.5,958.0 916.2,958.3 917.0,958.8 917.8,959.4 918.6,959.7 919.4,959.7 920.2,959.5 921.0,959.4 921.8,959.3 922.6,959.4 923.4,959.6 924.2,959.8 925.0,960.1 925.8,960.5 926.6,960.9 927.4,961.0 928.2,960.8 929.0,960.3 929.8,959.8 930.5,959.6 931.3,959.7 932.1,959.7 932.9,959.8 933.7,960.0 934.5,960.3 935.3,960.4 936.1,960.5 936.9,960.3 937.7,960.0 938.5,959.6 939.3,959.4 940.1,959.3 940.9,959.2 941.7,959.2 942.5,959.4 943.3,959.6 944.1,959.8 944.9,959.9 945.6,959.7 946.4,959.3 947.2,959.1 948.0,959.0 948.8,959.1 949.6,959.2 950.4,959.5 951.2,959.7 952.0,959.7 952.8,959.5 953.6,959.2 954.4,959.0 955.2,958.7 956.0,958.5 956.8,958.2 957.6,957.9 958.4,957.9 959.2,958.2 960.0,958.5 960.7,958.5 961.5,958.3 962.3,958.4 963.1,958.5 963.9,958.7 964.7,958.6 965.5,958.5 966.3,958.2 967.1,958.0 967.9,957.8 968.7,957.6 969.5,957.5 970.3,957.5 971.1,957.7 971.9,957.8 972.7,958.0 973.5,958.2 974.3,958.3 975.1,958.3 975.8,958.0 976.6,957.5 977.4,957.0 978.2,956.6 979.0,956.7 979.8,957.2 980.6,957.6 981.4,957.9 982.2,957.9 983.0,958.0 983.8,958.1 984.6,958.2 985.4,958.1 986.2,958.0 987.0,958.0 987.8,958.2 988.6,958.4 989.4,958.5 990.1,958.4 990.9,958.2 991.7,958.1 992.5,958.2 993.3,958.4 994.1,958.5 994.9,958.4 995.7,958.1 996.5,957.9 997.3,957.9 998.1,958.1 998.9,958.2 999.7,958.3 1000.5,958.2 1001.3,958.0 1002.1,958.0 1002.9,958.0 1003.7,958.1 1004.5,958.0 1005.2,957.8 1006.0,957.7 1006.8,957.7 1007.6,957.7 1008.4,958.0 1009.2,958.4 1010.0,958.6 1010.8,958.5 1011.6,958.2 1012.4,958.0 1013.2,957.9 1014.0,957.8 1014.8,957.5 1015.6,957.4 1016.4,957.7 1017.2,958.1 1018.0,958.5 1018.8,958.7 1019.6,958.7 1020.3,958.4 1021.1,958.2 1021.9,958.1 1022.7,958.3 1023.5,958.6 1024.3,958.9 1025.1,959.2 1025.9,959.4 1026.7,959.4 1027.5,959.2 1028.3,959.0 1029.1,959.1 1029.9,959.2 1030.7,959.3 1031.5,959.0 1032.3,958.7 1033.1,958.6 1033.9,958.8 1034.7,958.9 1035.4,959.1 1036.2,959.1 1037.0,958.9 1037.8,958.7 1038.6,958.6 1039.4,958.8 1040.2,959.2 1041.0,959.6 1041.8,959.7 1042.6,959.4 1043.4,959.0 1044.2,958.7 1045.0,958.9 1045.8,959.3 1046.6,959.7 1047.4,959.9 1048.2,960.0 1049.0,959.9 1049.7,959.8 1050.5,959.5 1051.3,959.2 1052.1,958.9 1052.9,958.9 1053.7,959.1 1054.5,959.3 1055.3,959.5 1056.1,959.8 1056.9,960.0 1057.7,960.2 1058.5,960.2 1059.3,960.1 1060.1,959.9 1060.9,959.9 1061.7,960.3 1062.5,960.8 1063.3,961.2 1064.1,961.5 1064.8,961.5 1065.6,961.5 1066.4,961.5 1067.2,961.7 1068.0,961.9 1068.8,962.0 1069.6,961.9 1070.4,961.5 1071.2,961.2 1072.0,960.9 1072.8,960.8 1073.6,961.0 1074.4,961.4 1075.2,961.7 1076.0,961.9 1076.8,962.1 1077.6,962.3 1078.4,962.3 1079.2,962.2 1079.9,962.2 1080.7,962.3 1081.5,962.4 1082.3,962.5 1083.1,962.5 1083.9,962.6 1084.7,963.0 1085.5,963.3 1086.3,963.5 1087.1,963.5 1087.9,963.3 1088.7,963.0 1089.5,962.8 1090.3,962.7 1091.1,962.9 1091.9,963.3 1092.7,963.8 1093.5,964.1 1094.3,964.1 1095.0,963.9 1095.8,963.9 1096.6,964.1 1097.4,964.3 1098.2,964.2 1099.0,964.1 1099.8,964.0 1100.6,963.8 1101.4,963.7 1102.2,963.6 1103.0,963.8 1103.8,964.3 1104.6,964.9 1105.4,965.2 1106.2,965.2 1107.0,965.1 1107.8,965.0 1108.6,964.9 1109.3,964.8 1110.1,964.6 1110.9,964.3 1111.7,964.1 1112.5,964.1 1113.3,964.4 1114.1,964.8 1114.9,965.2 1115.7,965.3 1116.5,965.3 1117.3,965.3 1118.1,965.6 1118.9,965.9 1119.7,966.0 1120.5,965.8 1121.3,965.5 1122.1,965.4 1122.9,965.5 1123.7,965.6 1124.4,965.8 1125.2,966.0 1126.0,966.2 1126.8,966.2 1127.6,965.8 1128.4,965.2 1129.2,964.7 1130.0,964.6 1130.8,964.6 1131.6,964.6 1132.4,964.6 1133.2,964.9 1134.0,965.5 1134.8,965.9 1135.6,966.0 1136.4,966.1 1137.2,966.2 1138.0,966.5 1138.8,966.7 1139.5,966.7 1140.3,966.4 1141.1,966.1 1141.9,966.1 1142.7,966.7 1143.5,967.5 1144.3,968.1 1145.1,968.2 1145.9,968.1 1146.7,968.0 1147.5,968.1 1148.3,968.2 1149.1,968.2 1149.9,967.9 1150.7,967.6 1151.5,967.6 1152.3,967.9 1153.1,968.3 1153.9,968.6 1154.6,968.9 1155.4,969.2 1156.2,969.5 1157.0,969.6 1157.8,969.6 1158.6,969.5 1159.4,969.5 1160.2,969.5 1161.0,969.3 1161.8,969.2 1162.6,969.2 1163.4,969.6 1164.2,970.0 1165.0,970.1 1165.8,970.1 1166.6,970.0 1167.4,969.7 1168.2,969.6 1168.9,969.6 1169.7,969.8 1170.5,969.8 1171.3,969.6 1172.1,969.2 1172.9,969.0 1173.7,969.1 1174.5,969.2 1175.3,969.1 1176.1,969.1 1176.9,969.1 1177.7,969.4 1178.5,969.7 1179.3,969.9 1180.1,969.9 1180.9,969.7 1181.7,969.5 1182.5,969.4 1183.3,969.6 1184.0,970.0 1184.8,970.4 1185.6,970.5 1186.4,970.4 1187.2,970.2 1188.0,970.3 1188.8,970.5 1189.6,970.8 1190.4,971.0 1191.2,971.2 1192.0,971.3 1192.8,971.3 1193.6,971.4 1194.4,971.4 1195.2,971.5 1196.0,971.5 1196.8,971.4 1197.6,971.3 1198.4,971.3 1199.1,971.5 1199.9,971.4 1200.7,971.4 1201.5,971.5 1202.3,972.0 1203.1,972.7 1203.9,973.4 1204.7,973.9 1205.5,973.9 1206.3,973.6 1207.1,973.1 1207.9,972.6 1208.7,972.2 1209.5,971.9 1210.3,971.8 1211.1,972.1 1211.9,972.2 1212.7,971.9 1213.5,971.3 1214.2,971.0 1215.0,971.0 1215.8,971.2 1216.6,971.4 1217.4,971.6 1218.2,971.6 1219.0,971.5 1219.8,971.2 1220.6,971.1 1221.4,971.0 1222.2,970.9 1223.0,970.7 1223.8,970.7 1224.6,971.0 1225.4,971.4 1226.2,971.9 1227.0,972.1 1227.8,972.1 1228.5,972.0 1229.3,971.9 1230.1,972.0 1230.9,972.1 1231.7,972.2 1232.5,972.3 1233.3,972.4 1234.1,972.4 1234.9,972.5 1235.7,972.6 1236.5,972.7 1237.3,972.7 1238.1,972.5 1238.9,972.3 1239.7,972.1 1240.5,972.1 1241.3,972.1 1242.1,972.3 1242.9,972.4 1243.6,972.4 1244.4,972.4 1245.2,972.4 1246.0,972.5 1246.8,972.6 1247.6,972.9 1248.4,973.2 1249.2,973.5 1250.0,973.5 1250.8,973.6 1251.6,973.7 1252.4,973.8 1253.2,973.7 1254.0,973.5 1254.8,973.3 1255.6,973.2 1256.4,973.2 1257.2,973.4 1258.0,973.8 1258.7,974.2 1259.5,974.6 1260.3,974.7 1261.1,974.6 1261.9,974.4 1262.7,974.0 1263.5,973.7 1264.3,973.6 1265.1,973.7 1265.9,973.7 1266.7,973.6 1267.5,973.5 1268.3,973.2 1269.1,972.9 1269.9,972.8 1270.7,973.2 1271.5,973.8 1272.3,974.1 1273.1,974.1 1273.8,974.1 1274.6,974.3 1275.4,974.4 1276.2,974.3 1277.0,973.8 1277.8,973.3 1278.6,973.0 1279.4,972.9 1280.2,973.0 1281.0,973.2 1281.8,973.4 1282.6,973.7 1283.4,974.0 1284.2,974.3 1285.0,974.4 1285.8,974.2 1286.6,973.8 1287.4,973.4 1288.1,973.2 1288.9,973.4 1289.7,973.6 1290.5,973.9 1291.3,974.3 1292.1,974.8 1292.9,975.1 1293.7,975.1 1294.5,975.0 1295.3,975.0 1296.1,975.0 1296.9,974.9 1297.7,974.8 1298.5,974.8 1299.3,974.8 1300.1,974.8 1300.9,974.6 1301.7,974.3 1302.5,974.2 1303.2,974.3 1304.0,974.5 1304.8,974.8 1305.6,975.0 1306.4,975.2 1307.2,975.2 1308.0,975.1 1308.8,975.0 1309.6,974.9 1310.4,974.9 1311.2,975.0 1312.0,975.3 1312.8,975.8 1313.6,976.2 1314.4,976.6 1315.2,976.6 1316.0,976.3 1316.8,976.0 1317.6,975.7 1318.3,975.7 1319.1,975.7 1319.9,975.6 1320.7,975.3 1321.5,975.1 1322.3,975.1 1323.1,975.5 1323.9,976.1 1324.7,976.5 1325.5,976.5 1326.3,976.4 1327.1,976.3 1327.9,976.0 1328.7,975.7 1329.5,975.4 1330.3,975.4 1331.1,975.5 1331.9,975.5 1332.7,975.4 1333.4,975.4 1334.2,975.6 1335.0,975.7 1335.8,975.5 1336.6,975.3 1337.4,975.4 1338.2,975.7 1339.0,975.9 1339.8,975.8 1340.6,975.6 1341.4,975.4 1342.2,975.2 1343.0,975.1 1343.8,975.4 1344.6,975.6 1345.4,975.6 1346.2,975.5 1347.0,975.4 1347.7,975.5 1348.5,975.4 1349.3,975.3 1350.1,975.4 1350.9,975.8 1351.7,976.0 1352.5,975.9 1353.3,975.7 1354.1,975.6 1354.9,975.8 1355.7,976.1 1356.5,976.1 1357.3,976.0 1358.1,975.9 1358.9,975.7 1359.7,975.5 1360.5,975.4 1361.3,975.6 1362.1,975.9 1362.8,976.0 1363.6,975.8 1364.4,975.5 1365.2,975.3 1366.0,975.3 1366.8,975.6 1367.6,975.9 1368.4,976.2 1369.2,976.4 1370.0,976.3" fill="none" stroke="#ff00ff" stroke-width="8.9" stroke-linejoin="round" stroke-linecap="round"/>
</g>
<rect x="178.0" y="56.0" width="1192.0" height="952.7" fill="none" stroke="#000" stroke-width="3.2"/>
<g stroke="#000" stroke-width="3.2" stroke-linecap="round">
<line x1="178.00" y1="1008.7" x2="178.00" y2="1026.7"/>
<line x1="277.33" y1="1008.7" x2="277.33" y2="1018.2"/>
<line x1="376.67" y1="1008.7" x2="376.67" y2="1026.7"/>
<line x1="476.00" y1="1008.7" x2="476.00" y2="1018.2"/>
<line x1="575.33" y1="1008.7" x2="575.33" y2="1026.7"/>
<line x1="674.67" y1="1008.7" x2="674.67" y2="1018.2"/>
<line x1="774.00" y1="1008.7" x2="774.00" y2="1026.7"/>
<line x1="873.33" y1="1008.7" x2="873.33" y2="1018.2"/>
<line x1="972.67" y1="1008.7" x2="972.67" y2="1026.7"/>
<line x1="1072.00" y1="1008.7" x2="1072.00" y2="1018.2"/>
<line x1="1171.33" y1="1008.7" x2="1171.33" y2="1026.7"/>
<line x1="1270.67" y1="1008.7" x2="1270.67" y2="1018.2"/>
<line x1="1370.00" y1="1008.7" x2="1370.00" y2="1026.7"/>
</g>
<g font-size="59" fill="#000">
<text x="178.00" y="1084.3" text-anchor="middle">20</text>
<text x="376.67" y="1084.3" text-anchor="middle">30</text>
<text x="575.33" y="1084.3" text-anchor="middle">40</text>
<text x="774.00" y="1084.3" text-anchor="middle">50</text>
<text x="972.67" y="1084.3" text-anchor="middle">60</text>
<text x="1171.33" y="1084.3" text-anchor="middle">70</text>
<text x="1370.00" y="1084.3" text-anchor="middle">80</text>
<text x="1085" y="130.4">H-TiN-800</text>
<text x="1085" y="322.3">H-TiN-750</text>
<text x="1083" y="531.9">H-TiN-700</text>
<text x="944.7" y="717.6">H-Anatase TiO</text><g style="filter:grayscale(1)"><text x="1330.5" y="740.8" font-size="37">2</text></g>
<text x="872.2" y="903.7">H-Amorphous TiO</text><g style="filter:grayscale(1)"><text x="1341.9" y="926.3" font-size="37">2</text></g>
</g>
<text transform="translate(416.6,1171) scale(1,1.02)" font-size="92.6" font-weight="bold">2 Theta (degree)</text>
<text transform="translate(110.7,891) rotate(-90) scale(1,1.015)" font-size="94.4" font-weight="bold">Intensity (a. u.)</text>
</svg>
</body></html>
